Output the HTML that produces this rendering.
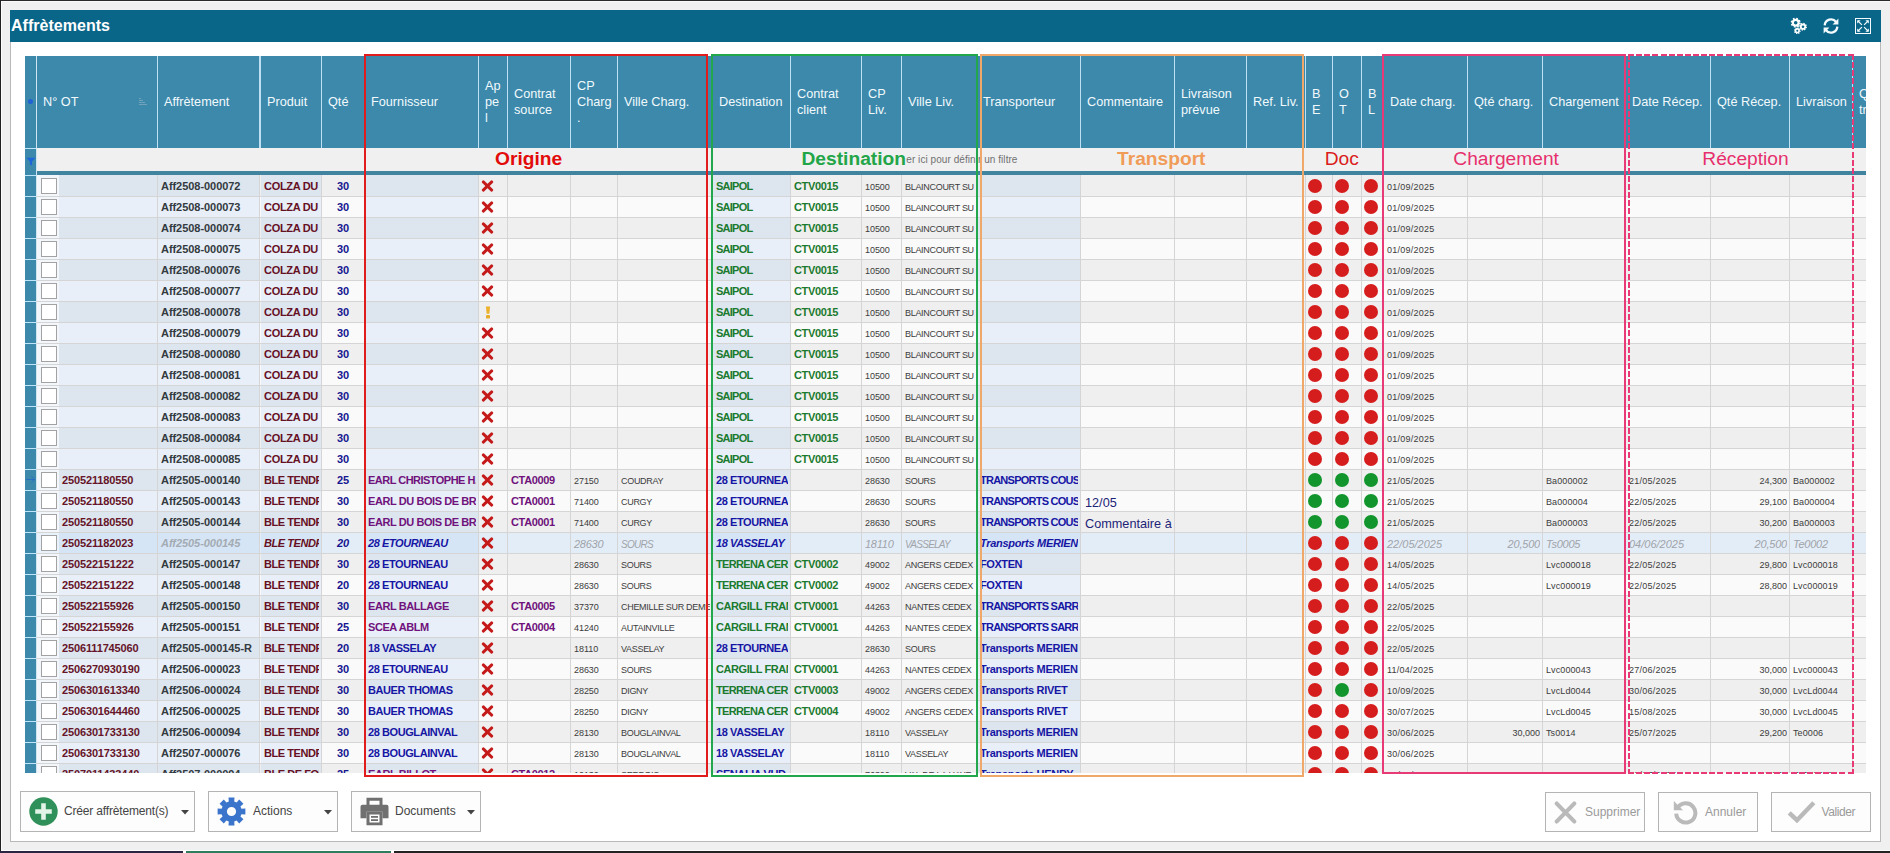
<!DOCTYPE html>
<html lang="fr"><head><meta charset="utf-8"><title>Affrètements</title>
<style>
html,body{margin:0;padding:0}
body{width:1890px;height:853px;overflow:hidden;position:relative;background:#f0f0f0;font-family:"Liberation Sans",sans-serif;}
div,span,svg{position:absolute;box-sizing:border-box}
.panel{left:10px;top:10px;width:1871px;height:832px;background:#fff;border:1px solid #b9b9b9}
.tbar{left:10px;top:10px;width:1871px;height:32px;background:#0a6689}
.title{left:11px;top:16px;font-size:16px;font-weight:bold;color:#fff;line-height:20px;white-space:nowrap;letter-spacing:0.03px}
.grid{left:25px;top:56px;width:1841px;height:717px;overflow:hidden;background:#fff}
.hdr{left:0;top:0;width:1841px;height:92px;background:#3c89ab}
.hc{top:0;height:92px;color:#f2f9fd;font-size:12.7px;line-height:16px;overflow:hidden;white-space:nowrap}
.hc span{position:absolute;left:6px}
.hs{top:0;width:1px;height:92px;background:#bfe0f3}
.filt{left:12px;top:92px;width:1829px;height:23px;background:#f0f0f0}
.band{left:12px;top:115px;width:1829px;height:4px;background:#40849f}
.ind{left:0;top:0;width:11px;height:717px;background:#3c89ab}
.indl{left:0;width:11px;height:1px;background:#bfe5fa}
.row{left:12px;width:1829px;height:21px}
.c{top:0;height:21px;white-space:nowrap}
.rl{left:12px;width:1829px;height:1px;background:#d5d5d5}
.vs{width:1px;background:#d5d5d5;top:119px;height:598px}
.t{left:3px;top:0;line-height:21px;height:21px;white-space:nowrap}
.tb{font-weight:bold;font-size:11px;top:1px}
.tr{font-size:9px;color:#3c3c3c;top:2px}
.k{left:0;top:0;height:21px;overflow:hidden}
.ti{font-style:italic}
.cb{width:16px;height:16px;left:4px;top:3px;background:#fff;border:1px solid #a2a2a2}
.dot{width:14.4px;height:14.4px;border-radius:50%;top:3.8px}
.lab{font-size:19.2px;line-height:23px;top:146.5px;white-space:nowrap}
.box{border:2px solid red}
.btn{background:#fdfdfd;border:1px solid #b4b4b4;top:791px;height:41px}
.btn span{top:0;line-height:39px;font-size:12px;color:#444;white-space:nowrap}
.btn2 span{color:#9a9a9a}
</style></head><body>
<div style="left:0;top:0;width:1890px;height:1px;background:#2a2a2a"></div>
<div style="left:0;top:0;width:1px;height:853px;background:#222"></div>
<div style="left:1px;top:1px;width:1889px;height:1px;background:#fafafa"></div>
<div style="left:1px;top:1px;width:1px;height:850px;background:#fcfcfc"></div>
<div style="left:1px;top:850px;width:1889px;height:1px;background:#fdfdfd"></div>
<div class="panel"></div>
<div class="tbar"></div>
<div class="title">Affrètements</div>


<svg style="left:1789px;top:17px" width="20" height="18" viewBox="0 0 20 18">
<g fill="none" stroke="#fff">
<circle cx="6.7" cy="5.7" r="2.9" stroke-width="2.2"/><circle cx="6.7" cy="5.7" r="4.3" stroke-width="1.5" stroke-dasharray="1.69 1.69"/>
<circle cx="14" cy="9.7" r="2.2" stroke-width="1.8"/><circle cx="14" cy="9.7" r="3.3" stroke-width="1.3" stroke-dasharray="1.3 1.29"/>
<circle cx="8.3" cy="13.7" r="1.8" stroke-width="1.6"/><circle cx="8.3" cy="13.7" r="2.8" stroke-width="1.2" stroke-dasharray="1.1 1.1"/>
</g></svg>
<svg style="left:1822px;top:17px" width="18" height="18" viewBox="0 0 18 18">
<g fill="none" stroke="#f4fbff" stroke-width="2.3"><path d="M2.7 8.4A6.3 6.3 0 0 1 14.1 5"/><path d="M15.3 9.6A6.3 6.3 0 0 1 3.9 13"/></g>
<path d="M16.4 1.6V7.4H10.6z" fill="#f4fbff"/><path d="M1.6 16.4V10.6H7.4z" fill="#f4fbff"/></svg>
<svg style="left:1855px;top:18px" width="16" height="16" viewBox="0 0 16 16">
<rect x="0.5" y="0.5" width="15" height="15" fill="none" stroke="#f4fbff" stroke-width="1"/>
<g stroke="#f4fbff" stroke-width="1.15" fill="none"><path d="M6.9 6.9L3 3M9.1 6.9L13 3M6.9 9.1L3 13M9.1 9.1L13 13"/></g>
<g fill="#f4fbff"><path d="M2.2 2.2h3.4L2.2 5.6z"/><path d="M13.8 2.2v3.4L10.4 2.2z"/><path d="M2.2 13.8v-3.4L5.6 13.8z"/><path d="M13.8 13.8h-3.4L13.8 10.4z"/></g></svg>

<div class="grid">
<div class="hdr"></div>
<div class="hc" style="left:12px;width:120px">
<span style="top:38px">N° OT</span>
</div>
<div class="hs" style="left:132px;width:1px"></div>
<div class="hc" style="left:133px;width:101px">
<span style="top:38px">Affrètement</span>
</div>
<div class="hs" style="left:234px;width:2px"></div>
<div class="hc" style="left:236px;width:60px">
<span style="top:38px">Produit</span>
</div>
<div class="hs" style="left:296px;width:1px"></div>
<div class="hc" style="left:297px;width:42px">
<span style="top:38px">Qté</span>
</div>
<div class="hs" style="left:339px;width:1px"></div>
<div class="hc" style="left:340px;width:113px">
<span style="top:38px">Fournisseur</span>
</div>
<div class="hs" style="left:453px;width:1px"></div>
<div class="hc" style="left:454px;width:28px">
<span style="top:22px">Ap</span>
<span style="top:38px">pe</span>
<span style="top:54px">l</span>
</div>
<div class="hs" style="left:482px;width:1px"></div>
<div class="hc" style="left:483px;width:62px">
<span style="top:30px">Contrat</span>
<span style="top:46px">source</span>
</div>
<div class="hs" style="left:545px;width:1px"></div>
<div class="hc" style="left:546px;width:46px">
<span style="top:22px">CP</span>
<span style="top:38px">Charg</span>
<span style="top:54px">.</span>
</div>
<div class="hs" style="left:592px;width:1px"></div>
<div class="hc" style="left:593px;width:94px">
<span style="top:38px">Ville Charg.</span>
</div>
<div class="hs" style="left:687px;width:1px"></div>
<div class="hc" style="left:688px;width:77px">
<span style="top:38px">Destination</span>
</div>
<div class="hs" style="left:765px;width:1px"></div>
<div class="hc" style="left:766px;width:70px">
<span style="top:30px">Contrat</span>
<span style="top:46px">client</span>
</div>
<div class="hs" style="left:836px;width:1px"></div>
<div class="hc" style="left:837px;width:39px">
<span style="top:30px">CP</span>
<span style="top:46px">Liv.</span>
</div>
<div class="hs" style="left:876px;width:1px"></div>
<div class="hc" style="left:877px;width:74px">
<span style="top:38px">Ville Liv.</span>
</div>
<div class="hs" style="left:951px;width:1px"></div>
<div class="hc" style="left:952px;width:103px">
<span style="top:38px">Transporteur</span>
</div>
<div class="hs" style="left:1055px;width:1px"></div>
<div class="hc" style="left:1056px;width:93px">
<span style="top:38px">Commentaire</span>
</div>
<div class="hs" style="left:1149px;width:1px"></div>
<div class="hc" style="left:1150px;width:71px">
<span style="top:30px">Livraison</span>
<span style="top:46px">prévue</span>
</div>
<div class="hs" style="left:1221px;width:1px"></div>
<div class="hc" style="left:1222px;width:58px">
<span style="top:38px">Ref. Liv.</span>
</div>
<div class="hs" style="left:1280px;width:1px"></div>
<div class="hc" style="left:1281px;width:26px">
<span style="top:30px">B</span>
<span style="top:46px">E</span>
</div>
<div class="hs" style="left:1307px;width:1px"></div>
<div class="hc" style="left:1308px;width:28px">
<span style="top:30px">O</span>
<span style="top:46px">T</span>
</div>
<div class="hs" style="left:1336px;width:1px"></div>
<div class="hc" style="left:1337px;width:21px">
<span style="top:30px">B</span>
<span style="top:46px">L</span>
</div>
<div class="hs" style="left:1358px;width:1px"></div>
<div class="hc" style="left:1359px;width:83px">
<span style="top:38px">Date charg.</span>
</div>
<div class="hs" style="left:1442px;width:1px"></div>
<div class="hc" style="left:1443px;width:74px">
<span style="top:38px">Qté charg.</span>
</div>
<div class="hs" style="left:1517px;width:1px"></div>
<div class="hc" style="left:1518px;width:82px">
<span style="top:38px">Chargement</span>
</div>
<div class="hs" style="left:1600px;width:1px"></div>
<div class="hc" style="left:1601px;width:84px">
<span style="top:38px">Date Récep.</span>
</div>
<div class="hs" style="left:1685px;width:1px"></div>
<div class="hc" style="left:1686px;width:78px">
<span style="top:38px">Qté Récep.</span>
</div>
<div class="hs" style="left:1764px;width:1px"></div>
<div class="hc" style="left:1765px;width:62px">
<span style="top:38px">Livraison</span>
</div>
<div class="hs" style="left:1827px;width:1px"></div>
<div class="hc" style="left:1828px;width:13px">
<span style="top:30px">Qté</span>
<span style="top:46px">tr</span>
</div>
<div class="filt"></div><div class="band"></div>
<div class="row" style="top:119px;background:#efefef">
<div class="c" style="left:0px;width:120px;background:#dde5ef;"><div style="left:0;top:0;width:22px;height:21px;background:#f3f6fa"></div><div class="cb"></div></div>
<div class="c" style="left:121px;width:101px;background:#dde5ef;"><div class="k" style="width:99px"><span class="t tb" style="color:#333a40;letter-spacing:-0.05px">Aff2508-000072</span></div></div>
<div class="c" style="left:224px;width:60px;background:#dde5ef;"><div class="k" style="width:58px"><span class="t tb" style="color:#661024;letter-spacing:-0.3px">COLZA DU</span></div></div>
<div class="c" style="left:285px;width:42px;"><div class="k" style="width:40px"><span class="t tb" style="left:0;width:42px;text-align:center;color:#151590">30</span></div></div>
<div class="c" style="left:328px;width:113px;background:#dde5ef;"></div>
<div class="c" style="left:442px;width:28px;"><svg style="left:2px;top:5px" width="13" height="12" viewBox="0 0 13 12"><path d="M2.3 1.9L10.7 10.1M10.7 1.9L2.3 10.1" stroke="#c41a1a" stroke-width="2.9" stroke-linecap="round" fill="none"/></svg></div>
<div class="c" style="left:471px;width:62px;"></div>
<div class="c" style="left:534px;width:46px;"></div>
<div class="c" style="left:581px;width:94px;"></div>
<div class="c" style="left:676px;width:77px;background:#dde5ef;"><div class="k" style="width:75px"><span class="t tb" style="color:#1a7a2e;letter-spacing:-0.75px">SAIPOL</span></div></div>
<div class="c" style="left:754px;width:70px;"><div class="k" style="width:68px"><span class="t tb" style="color:#1a7a2e;letter-spacing:-0.35px">CTV0015</span></div></div>
<div class="c" style="left:825px;width:39px;"><div class="k" style="width:37px"><span class="t tr" style="color:#3c3c3c;letter-spacing:-0.05px">10500</span></div></div>
<div class="c" style="left:865px;width:74px;"><div class="k" style="width:72px"><span class="t tr" style="color:#3c3c3c;letter-spacing:-0.30px">BLAINCOURT SU</span></div></div>
<div class="c" style="left:940px;width:103px;background:#dde5ef;"></div>
<div class="c" style="left:1044px;width:93px;"></div>
<div class="c" style="left:1138px;width:71px;"></div>
<div class="c" style="left:1210px;width:58px;"></div>
<div class="c" style="left:1269px;width:26px;"><div class="dot" style="left:1.8px;background:#d61d1d"></div></div>
<div class="c" style="left:1296px;width:28px;"><div class="dot" style="left:1.8px;background:#d61d1d"></div></div>
<div class="c" style="left:1325px;width:21px;"><div class="dot" style="left:1.8px;background:#d61d1d"></div></div>
<div class="c" style="left:1347px;width:83px;"><div class="k" style="width:81px"><span class="t tr" style="color:#3c3c3c;letter-spacing:0.24px">01/09/2025</span></div></div>
<div class="c" style="left:1431px;width:74px;"></div>
<div class="c" style="left:1506px;width:82px;"></div>
<div class="c" style="left:1589px;width:84px;"></div>
<div class="c" style="left:1674px;width:78px;"></div>
<div class="c" style="left:1753px;width:62px;"></div>
<div class="c" style="left:1816px;width:13px;"></div>
</div>
<div class="row" style="top:140px;background:#fafafa">
<div class="c" style="left:0px;width:120px;background:#e8eff8;"><div style="left:0;top:0;width:22px;height:21px;background:#f3f6fa"></div><div class="cb"></div></div>
<div class="c" style="left:121px;width:101px;background:#e8eff8;"><div class="k" style="width:99px"><span class="t tb" style="color:#333a40;letter-spacing:-0.05px">Aff2508-000073</span></div></div>
<div class="c" style="left:224px;width:60px;background:#e8eff8;"><div class="k" style="width:58px"><span class="t tb" style="color:#661024;letter-spacing:-0.3px">COLZA DU</span></div></div>
<div class="c" style="left:285px;width:42px;"><div class="k" style="width:40px"><span class="t tb" style="left:0;width:42px;text-align:center;color:#151590">30</span></div></div>
<div class="c" style="left:328px;width:113px;background:#e8eff8;"></div>
<div class="c" style="left:442px;width:28px;"><svg style="left:2px;top:5px" width="13" height="12" viewBox="0 0 13 12"><path d="M2.3 1.9L10.7 10.1M10.7 1.9L2.3 10.1" stroke="#c41a1a" stroke-width="2.9" stroke-linecap="round" fill="none"/></svg></div>
<div class="c" style="left:471px;width:62px;"></div>
<div class="c" style="left:534px;width:46px;"></div>
<div class="c" style="left:581px;width:94px;"></div>
<div class="c" style="left:676px;width:77px;background:#e8eff8;"><div class="k" style="width:75px"><span class="t tb" style="color:#1a7a2e;letter-spacing:-0.75px">SAIPOL</span></div></div>
<div class="c" style="left:754px;width:70px;"><div class="k" style="width:68px"><span class="t tb" style="color:#1a7a2e;letter-spacing:-0.35px">CTV0015</span></div></div>
<div class="c" style="left:825px;width:39px;"><div class="k" style="width:37px"><span class="t tr" style="color:#3c3c3c;letter-spacing:-0.05px">10500</span></div></div>
<div class="c" style="left:865px;width:74px;"><div class="k" style="width:72px"><span class="t tr" style="color:#3c3c3c;letter-spacing:-0.30px">BLAINCOURT SU</span></div></div>
<div class="c" style="left:940px;width:103px;background:#e8eff8;"></div>
<div class="c" style="left:1044px;width:93px;"></div>
<div class="c" style="left:1138px;width:71px;"></div>
<div class="c" style="left:1210px;width:58px;"></div>
<div class="c" style="left:1269px;width:26px;"><div class="dot" style="left:1.8px;background:#d61d1d"></div></div>
<div class="c" style="left:1296px;width:28px;"><div class="dot" style="left:1.8px;background:#d61d1d"></div></div>
<div class="c" style="left:1325px;width:21px;"><div class="dot" style="left:1.8px;background:#d61d1d"></div></div>
<div class="c" style="left:1347px;width:83px;"><div class="k" style="width:81px"><span class="t tr" style="color:#3c3c3c;letter-spacing:0.24px">01/09/2025</span></div></div>
<div class="c" style="left:1431px;width:74px;"></div>
<div class="c" style="left:1506px;width:82px;"></div>
<div class="c" style="left:1589px;width:84px;"></div>
<div class="c" style="left:1674px;width:78px;"></div>
<div class="c" style="left:1753px;width:62px;"></div>
<div class="c" style="left:1816px;width:13px;"></div>
</div>
<div class="row" style="top:161px;background:#efefef">
<div class="c" style="left:0px;width:120px;background:#dde5ef;"><div style="left:0;top:0;width:22px;height:21px;background:#f3f6fa"></div><div class="cb"></div></div>
<div class="c" style="left:121px;width:101px;background:#dde5ef;"><div class="k" style="width:99px"><span class="t tb" style="color:#333a40;letter-spacing:-0.05px">Aff2508-000074</span></div></div>
<div class="c" style="left:224px;width:60px;background:#dde5ef;"><div class="k" style="width:58px"><span class="t tb" style="color:#661024;letter-spacing:-0.3px">COLZA DU</span></div></div>
<div class="c" style="left:285px;width:42px;"><div class="k" style="width:40px"><span class="t tb" style="left:0;width:42px;text-align:center;color:#151590">30</span></div></div>
<div class="c" style="left:328px;width:113px;background:#dde5ef;"></div>
<div class="c" style="left:442px;width:28px;"><svg style="left:2px;top:5px" width="13" height="12" viewBox="0 0 13 12"><path d="M2.3 1.9L10.7 10.1M10.7 1.9L2.3 10.1" stroke="#c41a1a" stroke-width="2.9" stroke-linecap="round" fill="none"/></svg></div>
<div class="c" style="left:471px;width:62px;"></div>
<div class="c" style="left:534px;width:46px;"></div>
<div class="c" style="left:581px;width:94px;"></div>
<div class="c" style="left:676px;width:77px;background:#dde5ef;"><div class="k" style="width:75px"><span class="t tb" style="color:#1a7a2e;letter-spacing:-0.75px">SAIPOL</span></div></div>
<div class="c" style="left:754px;width:70px;"><div class="k" style="width:68px"><span class="t tb" style="color:#1a7a2e;letter-spacing:-0.35px">CTV0015</span></div></div>
<div class="c" style="left:825px;width:39px;"><div class="k" style="width:37px"><span class="t tr" style="color:#3c3c3c;letter-spacing:-0.05px">10500</span></div></div>
<div class="c" style="left:865px;width:74px;"><div class="k" style="width:72px"><span class="t tr" style="color:#3c3c3c;letter-spacing:-0.30px">BLAINCOURT SU</span></div></div>
<div class="c" style="left:940px;width:103px;background:#dde5ef;"></div>
<div class="c" style="left:1044px;width:93px;"></div>
<div class="c" style="left:1138px;width:71px;"></div>
<div class="c" style="left:1210px;width:58px;"></div>
<div class="c" style="left:1269px;width:26px;"><div class="dot" style="left:1.8px;background:#d61d1d"></div></div>
<div class="c" style="left:1296px;width:28px;"><div class="dot" style="left:1.8px;background:#d61d1d"></div></div>
<div class="c" style="left:1325px;width:21px;"><div class="dot" style="left:1.8px;background:#d61d1d"></div></div>
<div class="c" style="left:1347px;width:83px;"><div class="k" style="width:81px"><span class="t tr" style="color:#3c3c3c;letter-spacing:0.24px">01/09/2025</span></div></div>
<div class="c" style="left:1431px;width:74px;"></div>
<div class="c" style="left:1506px;width:82px;"></div>
<div class="c" style="left:1589px;width:84px;"></div>
<div class="c" style="left:1674px;width:78px;"></div>
<div class="c" style="left:1753px;width:62px;"></div>
<div class="c" style="left:1816px;width:13px;"></div>
</div>
<div class="row" style="top:182px;background:#fafafa">
<div class="c" style="left:0px;width:120px;background:#e8eff8;"><div style="left:0;top:0;width:22px;height:21px;background:#f3f6fa"></div><div class="cb"></div></div>
<div class="c" style="left:121px;width:101px;background:#e8eff8;"><div class="k" style="width:99px"><span class="t tb" style="color:#333a40;letter-spacing:-0.05px">Aff2508-000075</span></div></div>
<div class="c" style="left:224px;width:60px;background:#e8eff8;"><div class="k" style="width:58px"><span class="t tb" style="color:#661024;letter-spacing:-0.3px">COLZA DU</span></div></div>
<div class="c" style="left:285px;width:42px;"><div class="k" style="width:40px"><span class="t tb" style="left:0;width:42px;text-align:center;color:#151590">30</span></div></div>
<div class="c" style="left:328px;width:113px;background:#e8eff8;"></div>
<div class="c" style="left:442px;width:28px;"><svg style="left:2px;top:5px" width="13" height="12" viewBox="0 0 13 12"><path d="M2.3 1.9L10.7 10.1M10.7 1.9L2.3 10.1" stroke="#c41a1a" stroke-width="2.9" stroke-linecap="round" fill="none"/></svg></div>
<div class="c" style="left:471px;width:62px;"></div>
<div class="c" style="left:534px;width:46px;"></div>
<div class="c" style="left:581px;width:94px;"></div>
<div class="c" style="left:676px;width:77px;background:#e8eff8;"><div class="k" style="width:75px"><span class="t tb" style="color:#1a7a2e;letter-spacing:-0.75px">SAIPOL</span></div></div>
<div class="c" style="left:754px;width:70px;"><div class="k" style="width:68px"><span class="t tb" style="color:#1a7a2e;letter-spacing:-0.35px">CTV0015</span></div></div>
<div class="c" style="left:825px;width:39px;"><div class="k" style="width:37px"><span class="t tr" style="color:#3c3c3c;letter-spacing:-0.05px">10500</span></div></div>
<div class="c" style="left:865px;width:74px;"><div class="k" style="width:72px"><span class="t tr" style="color:#3c3c3c;letter-spacing:-0.30px">BLAINCOURT SU</span></div></div>
<div class="c" style="left:940px;width:103px;background:#e8eff8;"></div>
<div class="c" style="left:1044px;width:93px;"></div>
<div class="c" style="left:1138px;width:71px;"></div>
<div class="c" style="left:1210px;width:58px;"></div>
<div class="c" style="left:1269px;width:26px;"><div class="dot" style="left:1.8px;background:#d61d1d"></div></div>
<div class="c" style="left:1296px;width:28px;"><div class="dot" style="left:1.8px;background:#d61d1d"></div></div>
<div class="c" style="left:1325px;width:21px;"><div class="dot" style="left:1.8px;background:#d61d1d"></div></div>
<div class="c" style="left:1347px;width:83px;"><div class="k" style="width:81px"><span class="t tr" style="color:#3c3c3c;letter-spacing:0.24px">01/09/2025</span></div></div>
<div class="c" style="left:1431px;width:74px;"></div>
<div class="c" style="left:1506px;width:82px;"></div>
<div class="c" style="left:1589px;width:84px;"></div>
<div class="c" style="left:1674px;width:78px;"></div>
<div class="c" style="left:1753px;width:62px;"></div>
<div class="c" style="left:1816px;width:13px;"></div>
</div>
<div class="row" style="top:203px;background:#efefef">
<div class="c" style="left:0px;width:120px;background:#dde5ef;"><div style="left:0;top:0;width:22px;height:21px;background:#f3f6fa"></div><div class="cb"></div></div>
<div class="c" style="left:121px;width:101px;background:#dde5ef;"><div class="k" style="width:99px"><span class="t tb" style="color:#333a40;letter-spacing:-0.05px">Aff2508-000076</span></div></div>
<div class="c" style="left:224px;width:60px;background:#dde5ef;"><div class="k" style="width:58px"><span class="t tb" style="color:#661024;letter-spacing:-0.3px">COLZA DU</span></div></div>
<div class="c" style="left:285px;width:42px;"><div class="k" style="width:40px"><span class="t tb" style="left:0;width:42px;text-align:center;color:#151590">30</span></div></div>
<div class="c" style="left:328px;width:113px;background:#dde5ef;"></div>
<div class="c" style="left:442px;width:28px;"><svg style="left:2px;top:5px" width="13" height="12" viewBox="0 0 13 12"><path d="M2.3 1.9L10.7 10.1M10.7 1.9L2.3 10.1" stroke="#c41a1a" stroke-width="2.9" stroke-linecap="round" fill="none"/></svg></div>
<div class="c" style="left:471px;width:62px;"></div>
<div class="c" style="left:534px;width:46px;"></div>
<div class="c" style="left:581px;width:94px;"></div>
<div class="c" style="left:676px;width:77px;background:#dde5ef;"><div class="k" style="width:75px"><span class="t tb" style="color:#1a7a2e;letter-spacing:-0.75px">SAIPOL</span></div></div>
<div class="c" style="left:754px;width:70px;"><div class="k" style="width:68px"><span class="t tb" style="color:#1a7a2e;letter-spacing:-0.35px">CTV0015</span></div></div>
<div class="c" style="left:825px;width:39px;"><div class="k" style="width:37px"><span class="t tr" style="color:#3c3c3c;letter-spacing:-0.05px">10500</span></div></div>
<div class="c" style="left:865px;width:74px;"><div class="k" style="width:72px"><span class="t tr" style="color:#3c3c3c;letter-spacing:-0.30px">BLAINCOURT SU</span></div></div>
<div class="c" style="left:940px;width:103px;background:#dde5ef;"></div>
<div class="c" style="left:1044px;width:93px;"></div>
<div class="c" style="left:1138px;width:71px;"></div>
<div class="c" style="left:1210px;width:58px;"></div>
<div class="c" style="left:1269px;width:26px;"><div class="dot" style="left:1.8px;background:#d61d1d"></div></div>
<div class="c" style="left:1296px;width:28px;"><div class="dot" style="left:1.8px;background:#d61d1d"></div></div>
<div class="c" style="left:1325px;width:21px;"><div class="dot" style="left:1.8px;background:#d61d1d"></div></div>
<div class="c" style="left:1347px;width:83px;"><div class="k" style="width:81px"><span class="t tr" style="color:#3c3c3c;letter-spacing:0.24px">01/09/2025</span></div></div>
<div class="c" style="left:1431px;width:74px;"></div>
<div class="c" style="left:1506px;width:82px;"></div>
<div class="c" style="left:1589px;width:84px;"></div>
<div class="c" style="left:1674px;width:78px;"></div>
<div class="c" style="left:1753px;width:62px;"></div>
<div class="c" style="left:1816px;width:13px;"></div>
</div>
<div class="row" style="top:224px;background:#fafafa">
<div class="c" style="left:0px;width:120px;background:#e8eff8;"><div style="left:0;top:0;width:22px;height:21px;background:#f3f6fa"></div><div class="cb"></div></div>
<div class="c" style="left:121px;width:101px;background:#e8eff8;"><div class="k" style="width:99px"><span class="t tb" style="color:#333a40;letter-spacing:-0.05px">Aff2508-000077</span></div></div>
<div class="c" style="left:224px;width:60px;background:#e8eff8;"><div class="k" style="width:58px"><span class="t tb" style="color:#661024;letter-spacing:-0.3px">COLZA DU</span></div></div>
<div class="c" style="left:285px;width:42px;"><div class="k" style="width:40px"><span class="t tb" style="left:0;width:42px;text-align:center;color:#151590">30</span></div></div>
<div class="c" style="left:328px;width:113px;background:#e8eff8;"></div>
<div class="c" style="left:442px;width:28px;"><svg style="left:2px;top:5px" width="13" height="12" viewBox="0 0 13 12"><path d="M2.3 1.9L10.7 10.1M10.7 1.9L2.3 10.1" stroke="#c41a1a" stroke-width="2.9" stroke-linecap="round" fill="none"/></svg></div>
<div class="c" style="left:471px;width:62px;"></div>
<div class="c" style="left:534px;width:46px;"></div>
<div class="c" style="left:581px;width:94px;"></div>
<div class="c" style="left:676px;width:77px;background:#e8eff8;"><div class="k" style="width:75px"><span class="t tb" style="color:#1a7a2e;letter-spacing:-0.75px">SAIPOL</span></div></div>
<div class="c" style="left:754px;width:70px;"><div class="k" style="width:68px"><span class="t tb" style="color:#1a7a2e;letter-spacing:-0.35px">CTV0015</span></div></div>
<div class="c" style="left:825px;width:39px;"><div class="k" style="width:37px"><span class="t tr" style="color:#3c3c3c;letter-spacing:-0.05px">10500</span></div></div>
<div class="c" style="left:865px;width:74px;"><div class="k" style="width:72px"><span class="t tr" style="color:#3c3c3c;letter-spacing:-0.30px">BLAINCOURT SU</span></div></div>
<div class="c" style="left:940px;width:103px;background:#e8eff8;"></div>
<div class="c" style="left:1044px;width:93px;"></div>
<div class="c" style="left:1138px;width:71px;"></div>
<div class="c" style="left:1210px;width:58px;"></div>
<div class="c" style="left:1269px;width:26px;"><div class="dot" style="left:1.8px;background:#d61d1d"></div></div>
<div class="c" style="left:1296px;width:28px;"><div class="dot" style="left:1.8px;background:#d61d1d"></div></div>
<div class="c" style="left:1325px;width:21px;"><div class="dot" style="left:1.8px;background:#d61d1d"></div></div>
<div class="c" style="left:1347px;width:83px;"><div class="k" style="width:81px"><span class="t tr" style="color:#3c3c3c;letter-spacing:0.24px">01/09/2025</span></div></div>
<div class="c" style="left:1431px;width:74px;"></div>
<div class="c" style="left:1506px;width:82px;"></div>
<div class="c" style="left:1589px;width:84px;"></div>
<div class="c" style="left:1674px;width:78px;"></div>
<div class="c" style="left:1753px;width:62px;"></div>
<div class="c" style="left:1816px;width:13px;"></div>
</div>
<div class="row" style="top:245px;background:#efefef">
<div class="c" style="left:0px;width:120px;background:#dde5ef;"><div style="left:0;top:0;width:22px;height:21px;background:#f3f6fa"></div><div class="cb"></div></div>
<div class="c" style="left:121px;width:101px;background:#dde5ef;"><div class="k" style="width:99px"><span class="t tb" style="color:#333a40;letter-spacing:-0.05px">Aff2508-000078</span></div></div>
<div class="c" style="left:224px;width:60px;background:#dde5ef;"><div class="k" style="width:58px"><span class="t tb" style="color:#661024;letter-spacing:-0.3px">COLZA DU</span></div></div>
<div class="c" style="left:285px;width:42px;"><div class="k" style="width:40px"><span class="t tb" style="left:0;width:42px;text-align:center;color:#151590">30</span></div></div>
<div class="c" style="left:328px;width:113px;background:#dde5ef;"></div>
<div class="c" style="left:442px;width:28px;"><svg style="left:6px;top:5px" width="6" height="13" viewBox="0 0 6 13"><path d="M0.9 0.5h4.2l-0.7 7.3h-2.8z" fill="#ecb22e"/><rect x="1" y="9" width="4" height="3.6" rx="0.8" fill="#e6ac2a"/></svg></div>
<div class="c" style="left:471px;width:62px;"></div>
<div class="c" style="left:534px;width:46px;"></div>
<div class="c" style="left:581px;width:94px;"></div>
<div class="c" style="left:676px;width:77px;background:#dde5ef;"><div class="k" style="width:75px"><span class="t tb" style="color:#1a7a2e;letter-spacing:-0.75px">SAIPOL</span></div></div>
<div class="c" style="left:754px;width:70px;"><div class="k" style="width:68px"><span class="t tb" style="color:#1a7a2e;letter-spacing:-0.35px">CTV0015</span></div></div>
<div class="c" style="left:825px;width:39px;"><div class="k" style="width:37px"><span class="t tr" style="color:#3c3c3c;letter-spacing:-0.05px">10500</span></div></div>
<div class="c" style="left:865px;width:74px;"><div class="k" style="width:72px"><span class="t tr" style="color:#3c3c3c;letter-spacing:-0.30px">BLAINCOURT SU</span></div></div>
<div class="c" style="left:940px;width:103px;background:#dde5ef;"></div>
<div class="c" style="left:1044px;width:93px;"></div>
<div class="c" style="left:1138px;width:71px;"></div>
<div class="c" style="left:1210px;width:58px;"></div>
<div class="c" style="left:1269px;width:26px;"><div class="dot" style="left:1.8px;background:#d61d1d"></div></div>
<div class="c" style="left:1296px;width:28px;"><div class="dot" style="left:1.8px;background:#d61d1d"></div></div>
<div class="c" style="left:1325px;width:21px;"><div class="dot" style="left:1.8px;background:#d61d1d"></div></div>
<div class="c" style="left:1347px;width:83px;"><div class="k" style="width:81px"><span class="t tr" style="color:#3c3c3c;letter-spacing:0.24px">01/09/2025</span></div></div>
<div class="c" style="left:1431px;width:74px;"></div>
<div class="c" style="left:1506px;width:82px;"></div>
<div class="c" style="left:1589px;width:84px;"></div>
<div class="c" style="left:1674px;width:78px;"></div>
<div class="c" style="left:1753px;width:62px;"></div>
<div class="c" style="left:1816px;width:13px;"></div>
</div>
<div class="row" style="top:266px;background:#fafafa">
<div class="c" style="left:0px;width:120px;background:#e8eff8;"><div style="left:0;top:0;width:22px;height:21px;background:#f3f6fa"></div><div class="cb"></div></div>
<div class="c" style="left:121px;width:101px;background:#e8eff8;"><div class="k" style="width:99px"><span class="t tb" style="color:#333a40;letter-spacing:-0.05px">Aff2508-000079</span></div></div>
<div class="c" style="left:224px;width:60px;background:#e8eff8;"><div class="k" style="width:58px"><span class="t tb" style="color:#661024;letter-spacing:-0.3px">COLZA DU</span></div></div>
<div class="c" style="left:285px;width:42px;"><div class="k" style="width:40px"><span class="t tb" style="left:0;width:42px;text-align:center;color:#151590">30</span></div></div>
<div class="c" style="left:328px;width:113px;background:#e8eff8;"></div>
<div class="c" style="left:442px;width:28px;"><svg style="left:2px;top:5px" width="13" height="12" viewBox="0 0 13 12"><path d="M2.3 1.9L10.7 10.1M10.7 1.9L2.3 10.1" stroke="#c41a1a" stroke-width="2.9" stroke-linecap="round" fill="none"/></svg></div>
<div class="c" style="left:471px;width:62px;"></div>
<div class="c" style="left:534px;width:46px;"></div>
<div class="c" style="left:581px;width:94px;"></div>
<div class="c" style="left:676px;width:77px;background:#e8eff8;"><div class="k" style="width:75px"><span class="t tb" style="color:#1a7a2e;letter-spacing:-0.75px">SAIPOL</span></div></div>
<div class="c" style="left:754px;width:70px;"><div class="k" style="width:68px"><span class="t tb" style="color:#1a7a2e;letter-spacing:-0.35px">CTV0015</span></div></div>
<div class="c" style="left:825px;width:39px;"><div class="k" style="width:37px"><span class="t tr" style="color:#3c3c3c;letter-spacing:-0.05px">10500</span></div></div>
<div class="c" style="left:865px;width:74px;"><div class="k" style="width:72px"><span class="t tr" style="color:#3c3c3c;letter-spacing:-0.30px">BLAINCOURT SU</span></div></div>
<div class="c" style="left:940px;width:103px;background:#e8eff8;"></div>
<div class="c" style="left:1044px;width:93px;"></div>
<div class="c" style="left:1138px;width:71px;"></div>
<div class="c" style="left:1210px;width:58px;"></div>
<div class="c" style="left:1269px;width:26px;"><div class="dot" style="left:1.8px;background:#d61d1d"></div></div>
<div class="c" style="left:1296px;width:28px;"><div class="dot" style="left:1.8px;background:#d61d1d"></div></div>
<div class="c" style="left:1325px;width:21px;"><div class="dot" style="left:1.8px;background:#d61d1d"></div></div>
<div class="c" style="left:1347px;width:83px;"><div class="k" style="width:81px"><span class="t tr" style="color:#3c3c3c;letter-spacing:0.24px">01/09/2025</span></div></div>
<div class="c" style="left:1431px;width:74px;"></div>
<div class="c" style="left:1506px;width:82px;"></div>
<div class="c" style="left:1589px;width:84px;"></div>
<div class="c" style="left:1674px;width:78px;"></div>
<div class="c" style="left:1753px;width:62px;"></div>
<div class="c" style="left:1816px;width:13px;"></div>
</div>
<div class="row" style="top:287px;background:#efefef">
<div class="c" style="left:0px;width:120px;background:#dde5ef;"><div style="left:0;top:0;width:22px;height:21px;background:#f3f6fa"></div><div class="cb"></div></div>
<div class="c" style="left:121px;width:101px;background:#dde5ef;"><div class="k" style="width:99px"><span class="t tb" style="color:#333a40;letter-spacing:-0.05px">Aff2508-000080</span></div></div>
<div class="c" style="left:224px;width:60px;background:#dde5ef;"><div class="k" style="width:58px"><span class="t tb" style="color:#661024;letter-spacing:-0.3px">COLZA DU</span></div></div>
<div class="c" style="left:285px;width:42px;"><div class="k" style="width:40px"><span class="t tb" style="left:0;width:42px;text-align:center;color:#151590">30</span></div></div>
<div class="c" style="left:328px;width:113px;background:#dde5ef;"></div>
<div class="c" style="left:442px;width:28px;"><svg style="left:2px;top:5px" width="13" height="12" viewBox="0 0 13 12"><path d="M2.3 1.9L10.7 10.1M10.7 1.9L2.3 10.1" stroke="#c41a1a" stroke-width="2.9" stroke-linecap="round" fill="none"/></svg></div>
<div class="c" style="left:471px;width:62px;"></div>
<div class="c" style="left:534px;width:46px;"></div>
<div class="c" style="left:581px;width:94px;"></div>
<div class="c" style="left:676px;width:77px;background:#dde5ef;"><div class="k" style="width:75px"><span class="t tb" style="color:#1a7a2e;letter-spacing:-0.75px">SAIPOL</span></div></div>
<div class="c" style="left:754px;width:70px;"><div class="k" style="width:68px"><span class="t tb" style="color:#1a7a2e;letter-spacing:-0.35px">CTV0015</span></div></div>
<div class="c" style="left:825px;width:39px;"><div class="k" style="width:37px"><span class="t tr" style="color:#3c3c3c;letter-spacing:-0.05px">10500</span></div></div>
<div class="c" style="left:865px;width:74px;"><div class="k" style="width:72px"><span class="t tr" style="color:#3c3c3c;letter-spacing:-0.30px">BLAINCOURT SU</span></div></div>
<div class="c" style="left:940px;width:103px;background:#dde5ef;"></div>
<div class="c" style="left:1044px;width:93px;"></div>
<div class="c" style="left:1138px;width:71px;"></div>
<div class="c" style="left:1210px;width:58px;"></div>
<div class="c" style="left:1269px;width:26px;"><div class="dot" style="left:1.8px;background:#d61d1d"></div></div>
<div class="c" style="left:1296px;width:28px;"><div class="dot" style="left:1.8px;background:#d61d1d"></div></div>
<div class="c" style="left:1325px;width:21px;"><div class="dot" style="left:1.8px;background:#d61d1d"></div></div>
<div class="c" style="left:1347px;width:83px;"><div class="k" style="width:81px"><span class="t tr" style="color:#3c3c3c;letter-spacing:0.24px">01/09/2025</span></div></div>
<div class="c" style="left:1431px;width:74px;"></div>
<div class="c" style="left:1506px;width:82px;"></div>
<div class="c" style="left:1589px;width:84px;"></div>
<div class="c" style="left:1674px;width:78px;"></div>
<div class="c" style="left:1753px;width:62px;"></div>
<div class="c" style="left:1816px;width:13px;"></div>
</div>
<div class="row" style="top:308px;background:#fafafa">
<div class="c" style="left:0px;width:120px;background:#e8eff8;"><div style="left:0;top:0;width:22px;height:21px;background:#f3f6fa"></div><div class="cb"></div></div>
<div class="c" style="left:121px;width:101px;background:#e8eff8;"><div class="k" style="width:99px"><span class="t tb" style="color:#333a40;letter-spacing:-0.05px">Aff2508-000081</span></div></div>
<div class="c" style="left:224px;width:60px;background:#e8eff8;"><div class="k" style="width:58px"><span class="t tb" style="color:#661024;letter-spacing:-0.3px">COLZA DU</span></div></div>
<div class="c" style="left:285px;width:42px;"><div class="k" style="width:40px"><span class="t tb" style="left:0;width:42px;text-align:center;color:#151590">30</span></div></div>
<div class="c" style="left:328px;width:113px;background:#e8eff8;"></div>
<div class="c" style="left:442px;width:28px;"><svg style="left:2px;top:5px" width="13" height="12" viewBox="0 0 13 12"><path d="M2.3 1.9L10.7 10.1M10.7 1.9L2.3 10.1" stroke="#c41a1a" stroke-width="2.9" stroke-linecap="round" fill="none"/></svg></div>
<div class="c" style="left:471px;width:62px;"></div>
<div class="c" style="left:534px;width:46px;"></div>
<div class="c" style="left:581px;width:94px;"></div>
<div class="c" style="left:676px;width:77px;background:#e8eff8;"><div class="k" style="width:75px"><span class="t tb" style="color:#1a7a2e;letter-spacing:-0.75px">SAIPOL</span></div></div>
<div class="c" style="left:754px;width:70px;"><div class="k" style="width:68px"><span class="t tb" style="color:#1a7a2e;letter-spacing:-0.35px">CTV0015</span></div></div>
<div class="c" style="left:825px;width:39px;"><div class="k" style="width:37px"><span class="t tr" style="color:#3c3c3c;letter-spacing:-0.05px">10500</span></div></div>
<div class="c" style="left:865px;width:74px;"><div class="k" style="width:72px"><span class="t tr" style="color:#3c3c3c;letter-spacing:-0.30px">BLAINCOURT SU</span></div></div>
<div class="c" style="left:940px;width:103px;background:#e8eff8;"></div>
<div class="c" style="left:1044px;width:93px;"></div>
<div class="c" style="left:1138px;width:71px;"></div>
<div class="c" style="left:1210px;width:58px;"></div>
<div class="c" style="left:1269px;width:26px;"><div class="dot" style="left:1.8px;background:#d61d1d"></div></div>
<div class="c" style="left:1296px;width:28px;"><div class="dot" style="left:1.8px;background:#d61d1d"></div></div>
<div class="c" style="left:1325px;width:21px;"><div class="dot" style="left:1.8px;background:#d61d1d"></div></div>
<div class="c" style="left:1347px;width:83px;"><div class="k" style="width:81px"><span class="t tr" style="color:#3c3c3c;letter-spacing:0.24px">01/09/2025</span></div></div>
<div class="c" style="left:1431px;width:74px;"></div>
<div class="c" style="left:1506px;width:82px;"></div>
<div class="c" style="left:1589px;width:84px;"></div>
<div class="c" style="left:1674px;width:78px;"></div>
<div class="c" style="left:1753px;width:62px;"></div>
<div class="c" style="left:1816px;width:13px;"></div>
</div>
<div class="row" style="top:329px;background:#efefef">
<div class="c" style="left:0px;width:120px;background:#dde5ef;"><div style="left:0;top:0;width:22px;height:21px;background:#f3f6fa"></div><div class="cb"></div></div>
<div class="c" style="left:121px;width:101px;background:#dde5ef;"><div class="k" style="width:99px"><span class="t tb" style="color:#333a40;letter-spacing:-0.05px">Aff2508-000082</span></div></div>
<div class="c" style="left:224px;width:60px;background:#dde5ef;"><div class="k" style="width:58px"><span class="t tb" style="color:#661024;letter-spacing:-0.3px">COLZA DU</span></div></div>
<div class="c" style="left:285px;width:42px;"><div class="k" style="width:40px"><span class="t tb" style="left:0;width:42px;text-align:center;color:#151590">30</span></div></div>
<div class="c" style="left:328px;width:113px;background:#dde5ef;"></div>
<div class="c" style="left:442px;width:28px;"><svg style="left:2px;top:5px" width="13" height="12" viewBox="0 0 13 12"><path d="M2.3 1.9L10.7 10.1M10.7 1.9L2.3 10.1" stroke="#c41a1a" stroke-width="2.9" stroke-linecap="round" fill="none"/></svg></div>
<div class="c" style="left:471px;width:62px;"></div>
<div class="c" style="left:534px;width:46px;"></div>
<div class="c" style="left:581px;width:94px;"></div>
<div class="c" style="left:676px;width:77px;background:#dde5ef;"><div class="k" style="width:75px"><span class="t tb" style="color:#1a7a2e;letter-spacing:-0.75px">SAIPOL</span></div></div>
<div class="c" style="left:754px;width:70px;"><div class="k" style="width:68px"><span class="t tb" style="color:#1a7a2e;letter-spacing:-0.35px">CTV0015</span></div></div>
<div class="c" style="left:825px;width:39px;"><div class="k" style="width:37px"><span class="t tr" style="color:#3c3c3c;letter-spacing:-0.05px">10500</span></div></div>
<div class="c" style="left:865px;width:74px;"><div class="k" style="width:72px"><span class="t tr" style="color:#3c3c3c;letter-spacing:-0.30px">BLAINCOURT SU</span></div></div>
<div class="c" style="left:940px;width:103px;background:#dde5ef;"></div>
<div class="c" style="left:1044px;width:93px;"></div>
<div class="c" style="left:1138px;width:71px;"></div>
<div class="c" style="left:1210px;width:58px;"></div>
<div class="c" style="left:1269px;width:26px;"><div class="dot" style="left:1.8px;background:#d61d1d"></div></div>
<div class="c" style="left:1296px;width:28px;"><div class="dot" style="left:1.8px;background:#d61d1d"></div></div>
<div class="c" style="left:1325px;width:21px;"><div class="dot" style="left:1.8px;background:#d61d1d"></div></div>
<div class="c" style="left:1347px;width:83px;"><div class="k" style="width:81px"><span class="t tr" style="color:#3c3c3c;letter-spacing:0.24px">01/09/2025</span></div></div>
<div class="c" style="left:1431px;width:74px;"></div>
<div class="c" style="left:1506px;width:82px;"></div>
<div class="c" style="left:1589px;width:84px;"></div>
<div class="c" style="left:1674px;width:78px;"></div>
<div class="c" style="left:1753px;width:62px;"></div>
<div class="c" style="left:1816px;width:13px;"></div>
</div>
<div class="row" style="top:350px;background:#fafafa">
<div class="c" style="left:0px;width:120px;background:#e8eff8;"><div style="left:0;top:0;width:22px;height:21px;background:#f3f6fa"></div><div class="cb"></div></div>
<div class="c" style="left:121px;width:101px;background:#e8eff8;"><div class="k" style="width:99px"><span class="t tb" style="color:#333a40;letter-spacing:-0.05px">Aff2508-000083</span></div></div>
<div class="c" style="left:224px;width:60px;background:#e8eff8;"><div class="k" style="width:58px"><span class="t tb" style="color:#661024;letter-spacing:-0.3px">COLZA DU</span></div></div>
<div class="c" style="left:285px;width:42px;"><div class="k" style="width:40px"><span class="t tb" style="left:0;width:42px;text-align:center;color:#151590">30</span></div></div>
<div class="c" style="left:328px;width:113px;background:#e8eff8;"></div>
<div class="c" style="left:442px;width:28px;"><svg style="left:2px;top:5px" width="13" height="12" viewBox="0 0 13 12"><path d="M2.3 1.9L10.7 10.1M10.7 1.9L2.3 10.1" stroke="#c41a1a" stroke-width="2.9" stroke-linecap="round" fill="none"/></svg></div>
<div class="c" style="left:471px;width:62px;"></div>
<div class="c" style="left:534px;width:46px;"></div>
<div class="c" style="left:581px;width:94px;"></div>
<div class="c" style="left:676px;width:77px;background:#e8eff8;"><div class="k" style="width:75px"><span class="t tb" style="color:#1a7a2e;letter-spacing:-0.75px">SAIPOL</span></div></div>
<div class="c" style="left:754px;width:70px;"><div class="k" style="width:68px"><span class="t tb" style="color:#1a7a2e;letter-spacing:-0.35px">CTV0015</span></div></div>
<div class="c" style="left:825px;width:39px;"><div class="k" style="width:37px"><span class="t tr" style="color:#3c3c3c;letter-spacing:-0.05px">10500</span></div></div>
<div class="c" style="left:865px;width:74px;"><div class="k" style="width:72px"><span class="t tr" style="color:#3c3c3c;letter-spacing:-0.30px">BLAINCOURT SU</span></div></div>
<div class="c" style="left:940px;width:103px;background:#e8eff8;"></div>
<div class="c" style="left:1044px;width:93px;"></div>
<div class="c" style="left:1138px;width:71px;"></div>
<div class="c" style="left:1210px;width:58px;"></div>
<div class="c" style="left:1269px;width:26px;"><div class="dot" style="left:1.8px;background:#d61d1d"></div></div>
<div class="c" style="left:1296px;width:28px;"><div class="dot" style="left:1.8px;background:#d61d1d"></div></div>
<div class="c" style="left:1325px;width:21px;"><div class="dot" style="left:1.8px;background:#d61d1d"></div></div>
<div class="c" style="left:1347px;width:83px;"><div class="k" style="width:81px"><span class="t tr" style="color:#3c3c3c;letter-spacing:0.24px">01/09/2025</span></div></div>
<div class="c" style="left:1431px;width:74px;"></div>
<div class="c" style="left:1506px;width:82px;"></div>
<div class="c" style="left:1589px;width:84px;"></div>
<div class="c" style="left:1674px;width:78px;"></div>
<div class="c" style="left:1753px;width:62px;"></div>
<div class="c" style="left:1816px;width:13px;"></div>
</div>
<div class="row" style="top:371px;background:#efefef">
<div class="c" style="left:0px;width:120px;background:#dde5ef;"><div style="left:0;top:0;width:22px;height:21px;background:#f3f6fa"></div><div class="cb"></div></div>
<div class="c" style="left:121px;width:101px;background:#dde5ef;"><div class="k" style="width:99px"><span class="t tb" style="color:#333a40;letter-spacing:-0.05px">Aff2508-000084</span></div></div>
<div class="c" style="left:224px;width:60px;background:#dde5ef;"><div class="k" style="width:58px"><span class="t tb" style="color:#661024;letter-spacing:-0.3px">COLZA DU</span></div></div>
<div class="c" style="left:285px;width:42px;"><div class="k" style="width:40px"><span class="t tb" style="left:0;width:42px;text-align:center;color:#151590">30</span></div></div>
<div class="c" style="left:328px;width:113px;background:#dde5ef;"></div>
<div class="c" style="left:442px;width:28px;"><svg style="left:2px;top:5px" width="13" height="12" viewBox="0 0 13 12"><path d="M2.3 1.9L10.7 10.1M10.7 1.9L2.3 10.1" stroke="#c41a1a" stroke-width="2.9" stroke-linecap="round" fill="none"/></svg></div>
<div class="c" style="left:471px;width:62px;"></div>
<div class="c" style="left:534px;width:46px;"></div>
<div class="c" style="left:581px;width:94px;"></div>
<div class="c" style="left:676px;width:77px;background:#dde5ef;"><div class="k" style="width:75px"><span class="t tb" style="color:#1a7a2e;letter-spacing:-0.75px">SAIPOL</span></div></div>
<div class="c" style="left:754px;width:70px;"><div class="k" style="width:68px"><span class="t tb" style="color:#1a7a2e;letter-spacing:-0.35px">CTV0015</span></div></div>
<div class="c" style="left:825px;width:39px;"><div class="k" style="width:37px"><span class="t tr" style="color:#3c3c3c;letter-spacing:-0.05px">10500</span></div></div>
<div class="c" style="left:865px;width:74px;"><div class="k" style="width:72px"><span class="t tr" style="color:#3c3c3c;letter-spacing:-0.30px">BLAINCOURT SU</span></div></div>
<div class="c" style="left:940px;width:103px;background:#dde5ef;"></div>
<div class="c" style="left:1044px;width:93px;"></div>
<div class="c" style="left:1138px;width:71px;"></div>
<div class="c" style="left:1210px;width:58px;"></div>
<div class="c" style="left:1269px;width:26px;"><div class="dot" style="left:1.8px;background:#d61d1d"></div></div>
<div class="c" style="left:1296px;width:28px;"><div class="dot" style="left:1.8px;background:#d61d1d"></div></div>
<div class="c" style="left:1325px;width:21px;"><div class="dot" style="left:1.8px;background:#d61d1d"></div></div>
<div class="c" style="left:1347px;width:83px;"><div class="k" style="width:81px"><span class="t tr" style="color:#3c3c3c;letter-spacing:0.24px">01/09/2025</span></div></div>
<div class="c" style="left:1431px;width:74px;"></div>
<div class="c" style="left:1506px;width:82px;"></div>
<div class="c" style="left:1589px;width:84px;"></div>
<div class="c" style="left:1674px;width:78px;"></div>
<div class="c" style="left:1753px;width:62px;"></div>
<div class="c" style="left:1816px;width:13px;"></div>
</div>
<div class="row" style="top:392px;background:#fafafa">
<div class="c" style="left:0px;width:120px;background:#e8eff8;"><div style="left:0;top:0;width:22px;height:21px;background:#f3f6fa"></div><div class="cb"></div></div>
<div class="c" style="left:121px;width:101px;background:#e8eff8;"><div class="k" style="width:99px"><span class="t tb" style="color:#333a40;letter-spacing:-0.05px">Aff2508-000085</span></div></div>
<div class="c" style="left:224px;width:60px;background:#e8eff8;"><div class="k" style="width:58px"><span class="t tb" style="color:#661024;letter-spacing:-0.3px">COLZA DU</span></div></div>
<div class="c" style="left:285px;width:42px;"><div class="k" style="width:40px"><span class="t tb" style="left:0;width:42px;text-align:center;color:#151590">30</span></div></div>
<div class="c" style="left:328px;width:113px;background:#e8eff8;"></div>
<div class="c" style="left:442px;width:28px;"><svg style="left:2px;top:5px" width="13" height="12" viewBox="0 0 13 12"><path d="M2.3 1.9L10.7 10.1M10.7 1.9L2.3 10.1" stroke="#c41a1a" stroke-width="2.9" stroke-linecap="round" fill="none"/></svg></div>
<div class="c" style="left:471px;width:62px;"></div>
<div class="c" style="left:534px;width:46px;"></div>
<div class="c" style="left:581px;width:94px;"></div>
<div class="c" style="left:676px;width:77px;background:#e8eff8;"><div class="k" style="width:75px"><span class="t tb" style="color:#1a7a2e;letter-spacing:-0.75px">SAIPOL</span></div></div>
<div class="c" style="left:754px;width:70px;"><div class="k" style="width:68px"><span class="t tb" style="color:#1a7a2e;letter-spacing:-0.35px">CTV0015</span></div></div>
<div class="c" style="left:825px;width:39px;"><div class="k" style="width:37px"><span class="t tr" style="color:#3c3c3c;letter-spacing:-0.05px">10500</span></div></div>
<div class="c" style="left:865px;width:74px;"><div class="k" style="width:72px"><span class="t tr" style="color:#3c3c3c;letter-spacing:-0.30px">BLAINCOURT SU</span></div></div>
<div class="c" style="left:940px;width:103px;background:#e8eff8;"></div>
<div class="c" style="left:1044px;width:93px;"></div>
<div class="c" style="left:1138px;width:71px;"></div>
<div class="c" style="left:1210px;width:58px;"></div>
<div class="c" style="left:1269px;width:26px;"><div class="dot" style="left:1.8px;background:#d61d1d"></div></div>
<div class="c" style="left:1296px;width:28px;"><div class="dot" style="left:1.8px;background:#d61d1d"></div></div>
<div class="c" style="left:1325px;width:21px;"><div class="dot" style="left:1.8px;background:#d61d1d"></div></div>
<div class="c" style="left:1347px;width:83px;"><div class="k" style="width:81px"><span class="t tr" style="color:#3c3c3c;letter-spacing:0.24px">01/09/2025</span></div></div>
<div class="c" style="left:1431px;width:74px;"></div>
<div class="c" style="left:1506px;width:82px;"></div>
<div class="c" style="left:1589px;width:84px;"></div>
<div class="c" style="left:1674px;width:78px;"></div>
<div class="c" style="left:1753px;width:62px;"></div>
<div class="c" style="left:1816px;width:13px;"></div>
</div>
<div class="row" style="top:413px;background:#efefef">
<div class="c" style="left:0px;width:120px;background:#dde5ef;"><div style="left:0;top:0;width:22px;height:21px;background:#f3f6fa"></div><div class="cb"></div><div class="k" style="width:118px"><span class="t tb" style="left:25px;color:#661428;letter-spacing:-0.14px">250521180550</span></div></div>
<div class="c" style="left:121px;width:101px;background:#dde5ef;"><div class="k" style="width:99px"><span class="t tb" style="color:#333a40;letter-spacing:-0.05px">Aff2505-000140</span></div></div>
<div class="c" style="left:224px;width:60px;background:#dde5ef;"><div class="k" style="width:58px"><span class="t tb" style="color:#661024;letter-spacing:-0.45px">BLE TENDRE</span></div></div>
<div class="c" style="left:285px;width:42px;"><div class="k" style="width:40px"><span class="t tb" style="left:0;width:42px;text-align:center;color:#151590">25</span></div></div>
<div class="c" style="left:328px;width:113px;background:#dde5ef;"><div class="k" style="width:111px"><span class="t tb" style="color:#70127c;letter-spacing:-0.52px">EARL CHRISTOPHE H.</span></div></div>
<div class="c" style="left:442px;width:28px;"><svg style="left:2px;top:5px" width="13" height="12" viewBox="0 0 13 12"><path d="M2.3 1.9L10.7 10.1M10.7 1.9L2.3 10.1" stroke="#c41a1a" stroke-width="2.9" stroke-linecap="round" fill="none"/></svg></div>
<div class="c" style="left:471px;width:62px;"><div class="k" style="width:60px"><span class="t tb" style="color:#70127c;letter-spacing:-0.35px">CTA0009</span></div></div>
<div class="c" style="left:534px;width:46px;"><div class="k" style="width:44px"><span class="t tr" style="color:#3c3c3c;letter-spacing:-0.05px">27150</span></div></div>
<div class="c" style="left:581px;width:94px;"><div class="k" style="width:92px"><span class="t tr" style="color:#3c3c3c;letter-spacing:-0.30px">COUDRAY</span></div></div>
<div class="c" style="left:676px;width:77px;background:#dde5ef;"><div class="k" style="width:75px"><span class="t tb" style="color:#1616a4;letter-spacing:-0.42px">28 ETOURNEAU</span></div></div>
<div class="c" style="left:754px;width:70px;"></div>
<div class="c" style="left:825px;width:39px;"><div class="k" style="width:37px"><span class="t tr" style="color:#3c3c3c;letter-spacing:-0.05px">28630</span></div></div>
<div class="c" style="left:865px;width:74px;"><div class="k" style="width:72px"><span class="t tr" style="color:#3c3c3c;letter-spacing:-0.30px">SOURS</span></div></div>
<div class="c" style="left:940px;width:103px;background:#dde5ef;"><div class="k" style="width:101px"><span class="t tb" style="color:#1616a4;letter-spacing:-0.75px">TRANSPORTS COUSIN</span></div></div>
<div class="c" style="left:1044px;width:93px;"></div>
<div class="c" style="left:1138px;width:71px;"></div>
<div class="c" style="left:1210px;width:58px;"></div>
<div class="c" style="left:1269px;width:26px;"><div class="dot" style="left:1.8px;background:#12952c"></div></div>
<div class="c" style="left:1296px;width:28px;"><div class="dot" style="left:1.8px;background:#12952c"></div></div>
<div class="c" style="left:1325px;width:21px;"><div class="dot" style="left:1.8px;background:#12952c"></div></div>
<div class="c" style="left:1347px;width:83px;"><div class="k" style="width:81px"><span class="t tr" style="color:#3c3c3c;letter-spacing:0.24px">21/05/2025</span></div></div>
<div class="c" style="left:1431px;width:74px;"></div>
<div class="c" style="left:1506px;width:82px;"><div class="k" style="width:80px"><span class="t tr" style="color:#3c3c3c;letter-spacing:0.10px">Ba000002</span></div></div>
<div class="c" style="left:1589px;width:84px;"><div class="k" style="width:82px"><span class="t tr" style="color:#3c3c3c;letter-spacing:0.24px">21/05/2025</span></div></div>
<div class="c" style="left:1674px;width:78px;"><div class="k" style="width:76px"><span class="t tr" style="left:auto;right:0;color:#3c3c3c">24,300</span></div></div>
<div class="c" style="left:1753px;width:62px;"><div class="k" style="width:60px"><span class="t tr" style="color:#3c3c3c;letter-spacing:0.10px">Ba000002</span></div></div>
<div class="c" style="left:1816px;width:13px;"></div>
</div>
<div class="row" style="top:434px;background:#fafafa">
<div class="c" style="left:0px;width:120px;background:#e8eff8;"><div style="left:0;top:0;width:22px;height:21px;background:#f3f6fa"></div><div class="cb"></div><div class="k" style="width:118px"><span class="t tb" style="left:25px;color:#661428;letter-spacing:-0.14px">250521180550</span></div></div>
<div class="c" style="left:121px;width:101px;background:#e8eff8;"><div class="k" style="width:99px"><span class="t tb" style="color:#333a40;letter-spacing:-0.05px">Aff2505-000143</span></div></div>
<div class="c" style="left:224px;width:60px;background:#e8eff8;"><div class="k" style="width:58px"><span class="t tb" style="color:#661024;letter-spacing:-0.45px">BLE TENDRE</span></div></div>
<div class="c" style="left:285px;width:42px;"><div class="k" style="width:40px"><span class="t tb" style="left:0;width:42px;text-align:center;color:#151590">30</span></div></div>
<div class="c" style="left:328px;width:113px;background:#e8eff8;"><div class="k" style="width:111px"><span class="t tb" style="color:#70127c;letter-spacing:-0.42px">EARL DU BOIS DE BRAY</span></div></div>
<div class="c" style="left:442px;width:28px;"><svg style="left:2px;top:5px" width="13" height="12" viewBox="0 0 13 12"><path d="M2.3 1.9L10.7 10.1M10.7 1.9L2.3 10.1" stroke="#c41a1a" stroke-width="2.9" stroke-linecap="round" fill="none"/></svg></div>
<div class="c" style="left:471px;width:62px;"><div class="k" style="width:60px"><span class="t tb" style="color:#70127c;letter-spacing:-0.35px">CTA0001</span></div></div>
<div class="c" style="left:534px;width:46px;"><div class="k" style="width:44px"><span class="t tr" style="color:#3c3c3c;letter-spacing:-0.05px">71400</span></div></div>
<div class="c" style="left:581px;width:94px;"><div class="k" style="width:92px"><span class="t tr" style="color:#3c3c3c;letter-spacing:-0.30px">CURGY</span></div></div>
<div class="c" style="left:676px;width:77px;background:#e8eff8;"><div class="k" style="width:75px"><span class="t tb" style="color:#1616a4;letter-spacing:-0.42px">28 ETOURNEAU</span></div></div>
<div class="c" style="left:754px;width:70px;"></div>
<div class="c" style="left:825px;width:39px;"><div class="k" style="width:37px"><span class="t tr" style="color:#3c3c3c;letter-spacing:-0.05px">28630</span></div></div>
<div class="c" style="left:865px;width:74px;"><div class="k" style="width:72px"><span class="t tr" style="color:#3c3c3c;letter-spacing:-0.30px">SOURS</span></div></div>
<div class="c" style="left:940px;width:103px;background:#e8eff8;"><div class="k" style="width:101px"><span class="t tb" style="color:#1616a4;letter-spacing:-0.75px">TRANSPORTS COUSIN</span></div></div>
<div class="c" style="left:1044px;width:93px;"><div class="k" style="width:91px"><span class="t" style="left:4px;top:3px;font-size:12.7px;color:#1d2478">12/05</span></div></div>
<div class="c" style="left:1138px;width:71px;"></div>
<div class="c" style="left:1210px;width:58px;"></div>
<div class="c" style="left:1269px;width:26px;"><div class="dot" style="left:1.8px;background:#12952c"></div></div>
<div class="c" style="left:1296px;width:28px;"><div class="dot" style="left:1.8px;background:#12952c"></div></div>
<div class="c" style="left:1325px;width:21px;"><div class="dot" style="left:1.8px;background:#12952c"></div></div>
<div class="c" style="left:1347px;width:83px;"><div class="k" style="width:81px"><span class="t tr" style="color:#3c3c3c;letter-spacing:0.24px">21/05/2025</span></div></div>
<div class="c" style="left:1431px;width:74px;"></div>
<div class="c" style="left:1506px;width:82px;"><div class="k" style="width:80px"><span class="t tr" style="color:#3c3c3c;letter-spacing:0.10px">Ba000004</span></div></div>
<div class="c" style="left:1589px;width:84px;"><div class="k" style="width:82px"><span class="t tr" style="color:#3c3c3c;letter-spacing:0.24px">22/05/2025</span></div></div>
<div class="c" style="left:1674px;width:78px;"><div class="k" style="width:76px"><span class="t tr" style="left:auto;right:0;color:#3c3c3c">29,100</span></div></div>
<div class="c" style="left:1753px;width:62px;"><div class="k" style="width:60px"><span class="t tr" style="color:#3c3c3c;letter-spacing:0.10px">Ba000004</span></div></div>
<div class="c" style="left:1816px;width:13px;"></div>
</div>
<div class="row" style="top:455px;background:#efefef">
<div class="c" style="left:0px;width:120px;background:#dde5ef;"><div style="left:0;top:0;width:22px;height:21px;background:#f3f6fa"></div><div class="cb"></div><div class="k" style="width:118px"><span class="t tb" style="left:25px;color:#661428;letter-spacing:-0.14px">250521180550</span></div></div>
<div class="c" style="left:121px;width:101px;background:#dde5ef;"><div class="k" style="width:99px"><span class="t tb" style="color:#333a40;letter-spacing:-0.05px">Aff2505-000144</span></div></div>
<div class="c" style="left:224px;width:60px;background:#dde5ef;"><div class="k" style="width:58px"><span class="t tb" style="color:#661024;letter-spacing:-0.45px">BLE TENDRE</span></div></div>
<div class="c" style="left:285px;width:42px;"><div class="k" style="width:40px"><span class="t tb" style="left:0;width:42px;text-align:center;color:#151590">30</span></div></div>
<div class="c" style="left:328px;width:113px;background:#dde5ef;"><div class="k" style="width:111px"><span class="t tb" style="color:#70127c;letter-spacing:-0.42px">EARL DU BOIS DE BRAY</span></div></div>
<div class="c" style="left:442px;width:28px;"><svg style="left:2px;top:5px" width="13" height="12" viewBox="0 0 13 12"><path d="M2.3 1.9L10.7 10.1M10.7 1.9L2.3 10.1" stroke="#c41a1a" stroke-width="2.9" stroke-linecap="round" fill="none"/></svg></div>
<div class="c" style="left:471px;width:62px;"><div class="k" style="width:60px"><span class="t tb" style="color:#70127c;letter-spacing:-0.35px">CTA0001</span></div></div>
<div class="c" style="left:534px;width:46px;"><div class="k" style="width:44px"><span class="t tr" style="color:#3c3c3c;letter-spacing:-0.05px">71400</span></div></div>
<div class="c" style="left:581px;width:94px;"><div class="k" style="width:92px"><span class="t tr" style="color:#3c3c3c;letter-spacing:-0.30px">CURGY</span></div></div>
<div class="c" style="left:676px;width:77px;background:#dde5ef;"><div class="k" style="width:75px"><span class="t tb" style="color:#1616a4;letter-spacing:-0.42px">28 ETOURNEAU</span></div></div>
<div class="c" style="left:754px;width:70px;"></div>
<div class="c" style="left:825px;width:39px;"><div class="k" style="width:37px"><span class="t tr" style="color:#3c3c3c;letter-spacing:-0.05px">28630</span></div></div>
<div class="c" style="left:865px;width:74px;"><div class="k" style="width:72px"><span class="t tr" style="color:#3c3c3c;letter-spacing:-0.30px">SOURS</span></div></div>
<div class="c" style="left:940px;width:103px;background:#dde5ef;"><div class="k" style="width:101px"><span class="t tb" style="color:#1616a4;letter-spacing:-0.75px">TRANSPORTS COUSIN</span></div></div>
<div class="c" style="left:1044px;width:93px;"><div class="k" style="width:91px"><span class="t" style="left:4px;top:3px;font-size:12.7px;color:#1d2478">Commentaire à</span></div></div>
<div class="c" style="left:1138px;width:71px;"></div>
<div class="c" style="left:1210px;width:58px;"></div>
<div class="c" style="left:1269px;width:26px;"><div class="dot" style="left:1.8px;background:#12952c"></div></div>
<div class="c" style="left:1296px;width:28px;"><div class="dot" style="left:1.8px;background:#12952c"></div></div>
<div class="c" style="left:1325px;width:21px;"><div class="dot" style="left:1.8px;background:#12952c"></div></div>
<div class="c" style="left:1347px;width:83px;"><div class="k" style="width:81px"><span class="t tr" style="color:#3c3c3c;letter-spacing:0.24px">21/05/2025</span></div></div>
<div class="c" style="left:1431px;width:74px;"></div>
<div class="c" style="left:1506px;width:82px;"><div class="k" style="width:80px"><span class="t tr" style="color:#3c3c3c;letter-spacing:0.10px">Ba000003</span></div></div>
<div class="c" style="left:1589px;width:84px;"><div class="k" style="width:82px"><span class="t tr" style="color:#3c3c3c;letter-spacing:0.24px">22/05/2025</span></div></div>
<div class="c" style="left:1674px;width:78px;"><div class="k" style="width:76px"><span class="t tr" style="left:auto;right:0;color:#3c3c3c">30,200</span></div></div>
<div class="c" style="left:1753px;width:62px;"><div class="k" style="width:60px"><span class="t tr" style="color:#3c3c3c;letter-spacing:0.10px">Ba000003</span></div></div>
<div class="c" style="left:1816px;width:13px;"></div>
</div>
<div class="row" style="top:476px;background:#e3edf8">
<div class="c" style="left:0px;width:120px;background:#d6e5f5;"><div style="left:0;top:0;width:22px;height:21px;background:#e9f1fa"></div><div class="cb"></div><div class="k" style="width:118px"><span class="t tb" style="left:25px;color:#661428;letter-spacing:-0.14px">250521182023</span></div></div>
<div class="c" style="left:121px;width:101px;background:#d6e5f5;"><div class="k" style="width:99px"><span class="t tb ti" style="color:#a3abb3;letter-spacing:-0.05px">Aff2505-000145</span></div></div>
<div class="c" style="left:224px;width:60px;background:#d6e5f5;"><div class="k" style="width:58px"><span class="t tb ti" style="color:#661024;letter-spacing:-0.45px">BLE TENDRE</span></div></div>
<div class="c" style="left:285px;width:42px;"><div class="k" style="width:40px"><span class="t tb ti" style="left:0;width:42px;text-align:center;color:#151590">20</span></div></div>
<div class="c" style="left:328px;width:113px;background:#d6e5f5;"><div class="k" style="width:111px"><span class="t tb ti" style="color:#1616a4;letter-spacing:-0.42px">28 ETOURNEAU</span></div></div>
<div class="c" style="left:442px;width:28px;"><svg style="left:2px;top:5px" width="13" height="12" viewBox="0 0 13 12"><path d="M2.3 1.9L10.7 10.1M10.7 1.9L2.3 10.1" stroke="#c41a1a" stroke-width="2.9" stroke-linecap="round" fill="none"/></svg></div>
<div class="c" style="left:471px;width:62px;"></div>
<div class="c" style="left:534px;width:46px;"><div class="k" style="width:44px"><span class="t tr ti" style="font-size:11px;color:#a0a3a8;letter-spacing:-0.25px">28630</span></div></div>
<div class="c" style="left:581px;width:94px;"><div class="k" style="width:92px"><span class="t tr ti" style="font-size:10px;color:#a0a3a8;letter-spacing:-0.75px">SOURS</span></div></div>
<div class="c" style="left:676px;width:77px;background:#d6e5f5;"><div class="k" style="width:75px"><span class="t tb ti" style="color:#1616a4;letter-spacing:-0.42px">18 VASSELAY</span></div></div>
<div class="c" style="left:754px;width:70px;"></div>
<div class="c" style="left:825px;width:39px;"><div class="k" style="width:37px"><span class="t tr ti" style="font-size:11px;color:#a0a3a8;letter-spacing:-0.25px">18110</span></div></div>
<div class="c" style="left:865px;width:74px;"><div class="k" style="width:72px"><span class="t tr ti" style="font-size:10px;color:#a0a3a8;letter-spacing:-0.75px">VASSELAY</span></div></div>
<div class="c" style="left:940px;width:103px;background:#d6e5f5;"><div class="k" style="width:101px"><span class="t tb ti" style="color:#1616a4;letter-spacing:-0.30px">Transports MERIENNE</span></div></div>
<div class="c" style="left:1044px;width:93px;"></div>
<div class="c" style="left:1138px;width:71px;"></div>
<div class="c" style="left:1210px;width:58px;"></div>
<div class="c" style="left:1269px;width:26px;"><div class="dot" style="left:1.8px;background:#d61d1d"></div></div>
<div class="c" style="left:1296px;width:28px;"><div class="dot" style="left:1.8px;background:#d61d1d"></div></div>
<div class="c" style="left:1325px;width:21px;"><div class="dot" style="left:1.8px;background:#d61d1d"></div></div>
<div class="c" style="left:1347px;width:83px;"><div class="k" style="width:81px"><span class="t tr ti" style="font-size:11px;color:#a0a3a8;letter-spacing:0.00px">22/05/2025</span></div></div>
<div class="c" style="left:1431px;width:74px;"><div class="k" style="width:72px"><span class="t tr ti" style="font-size:11px;letter-spacing:-0.2px;left:auto;right:0;color:#a0a3a8">20,500</span></div></div>
<div class="c" style="left:1506px;width:82px;"><div class="k" style="width:80px"><span class="t tr ti" style="font-size:11px;color:#a0a3a8;letter-spacing:-0.25px">Ts0005</span></div></div>
<div class="c" style="left:1589px;width:84px;"><div class="k" style="width:82px"><span class="t tr ti" style="font-size:11px;color:#a0a3a8;letter-spacing:0.00px">04/06/2025</span></div></div>
<div class="c" style="left:1674px;width:78px;"><div class="k" style="width:76px"><span class="t tr ti" style="font-size:11px;letter-spacing:-0.2px;left:auto;right:0;color:#a0a3a8">20,500</span></div></div>
<div class="c" style="left:1753px;width:62px;"><div class="k" style="width:60px"><span class="t tr ti" style="font-size:11px;color:#a0a3a8;letter-spacing:-0.25px">Te0002</span></div></div>
<div class="c" style="left:1816px;width:13px;"></div>
</div>
<div class="row" style="top:497px;background:#efefef">
<div class="c" style="left:0px;width:120px;background:#dde5ef;"><div style="left:0;top:0;width:22px;height:21px;background:#f3f6fa"></div><div class="cb"></div><div class="k" style="width:118px"><span class="t tb" style="left:25px;color:#661428;letter-spacing:-0.14px">250522151222</span></div></div>
<div class="c" style="left:121px;width:101px;background:#dde5ef;"><div class="k" style="width:99px"><span class="t tb" style="color:#333a40;letter-spacing:-0.05px">Aff2505-000147</span></div></div>
<div class="c" style="left:224px;width:60px;background:#dde5ef;"><div class="k" style="width:58px"><span class="t tb" style="color:#661024;letter-spacing:-0.45px">BLE TENDRE</span></div></div>
<div class="c" style="left:285px;width:42px;"><div class="k" style="width:40px"><span class="t tb" style="left:0;width:42px;text-align:center;color:#151590">30</span></div></div>
<div class="c" style="left:328px;width:113px;background:#dde5ef;"><div class="k" style="width:111px"><span class="t tb" style="color:#1616a4;letter-spacing:-0.42px">28 ETOURNEAU</span></div></div>
<div class="c" style="left:442px;width:28px;"><svg style="left:2px;top:5px" width="13" height="12" viewBox="0 0 13 12"><path d="M2.3 1.9L10.7 10.1M10.7 1.9L2.3 10.1" stroke="#c41a1a" stroke-width="2.9" stroke-linecap="round" fill="none"/></svg></div>
<div class="c" style="left:471px;width:62px;"></div>
<div class="c" style="left:534px;width:46px;"><div class="k" style="width:44px"><span class="t tr" style="color:#3c3c3c;letter-spacing:-0.05px">28630</span></div></div>
<div class="c" style="left:581px;width:94px;"><div class="k" style="width:92px"><span class="t tr" style="color:#3c3c3c;letter-spacing:-0.30px">SOURS</span></div></div>
<div class="c" style="left:676px;width:77px;background:#dde5ef;"><div class="k" style="width:75px"><span class="t tb" style="color:#1a7a2e;letter-spacing:-0.67px">TERRENA CEREALES</span></div></div>
<div class="c" style="left:754px;width:70px;"><div class="k" style="width:68px"><span class="t tb" style="color:#1a7a2e;letter-spacing:-0.35px">CTV0002</span></div></div>
<div class="c" style="left:825px;width:39px;"><div class="k" style="width:37px"><span class="t tr" style="color:#3c3c3c;letter-spacing:-0.05px">49002</span></div></div>
<div class="c" style="left:865px;width:74px;"><div class="k" style="width:72px"><span class="t tr" style="color:#3c3c3c;letter-spacing:-0.30px">ANGERS CEDEX</span></div></div>
<div class="c" style="left:940px;width:103px;background:#dde5ef;"><div class="k" style="width:101px"><span class="t tb" style="color:#1616a4;letter-spacing:-0.42px">FOXTEN</span></div></div>
<div class="c" style="left:1044px;width:93px;"></div>
<div class="c" style="left:1138px;width:71px;"></div>
<div class="c" style="left:1210px;width:58px;"></div>
<div class="c" style="left:1269px;width:26px;"><div class="dot" style="left:1.8px;background:#d61d1d"></div></div>
<div class="c" style="left:1296px;width:28px;"><div class="dot" style="left:1.8px;background:#d61d1d"></div></div>
<div class="c" style="left:1325px;width:21px;"><div class="dot" style="left:1.8px;background:#d61d1d"></div></div>
<div class="c" style="left:1347px;width:83px;"><div class="k" style="width:81px"><span class="t tr" style="color:#3c3c3c;letter-spacing:0.24px">14/05/2025</span></div></div>
<div class="c" style="left:1431px;width:74px;"></div>
<div class="c" style="left:1506px;width:82px;"><div class="k" style="width:80px"><span class="t tr" style="color:#3c3c3c;letter-spacing:0.10px">Lvc000018</span></div></div>
<div class="c" style="left:1589px;width:84px;"><div class="k" style="width:82px"><span class="t tr" style="color:#3c3c3c;letter-spacing:0.24px">22/05/2025</span></div></div>
<div class="c" style="left:1674px;width:78px;"><div class="k" style="width:76px"><span class="t tr" style="left:auto;right:0;color:#3c3c3c">29,800</span></div></div>
<div class="c" style="left:1753px;width:62px;"><div class="k" style="width:60px"><span class="t tr" style="color:#3c3c3c;letter-spacing:0.10px">Lvc000018</span></div></div>
<div class="c" style="left:1816px;width:13px;"></div>
</div>
<div class="row" style="top:518px;background:#fafafa">
<div class="c" style="left:0px;width:120px;background:#e8eff8;"><div style="left:0;top:0;width:22px;height:21px;background:#f3f6fa"></div><div class="cb"></div><div class="k" style="width:118px"><span class="t tb" style="left:25px;color:#661428;letter-spacing:-0.14px">250522151222</span></div></div>
<div class="c" style="left:121px;width:101px;background:#e8eff8;"><div class="k" style="width:99px"><span class="t tb" style="color:#333a40;letter-spacing:-0.05px">Aff2505-000148</span></div></div>
<div class="c" style="left:224px;width:60px;background:#e8eff8;"><div class="k" style="width:58px"><span class="t tb" style="color:#661024;letter-spacing:-0.45px">BLE TENDRE</span></div></div>
<div class="c" style="left:285px;width:42px;"><div class="k" style="width:40px"><span class="t tb" style="left:0;width:42px;text-align:center;color:#151590">20</span></div></div>
<div class="c" style="left:328px;width:113px;background:#e8eff8;"><div class="k" style="width:111px"><span class="t tb" style="color:#1616a4;letter-spacing:-0.42px">28 ETOURNEAU</span></div></div>
<div class="c" style="left:442px;width:28px;"><svg style="left:2px;top:5px" width="13" height="12" viewBox="0 0 13 12"><path d="M2.3 1.9L10.7 10.1M10.7 1.9L2.3 10.1" stroke="#c41a1a" stroke-width="2.9" stroke-linecap="round" fill="none"/></svg></div>
<div class="c" style="left:471px;width:62px;"></div>
<div class="c" style="left:534px;width:46px;"><div class="k" style="width:44px"><span class="t tr" style="color:#3c3c3c;letter-spacing:-0.05px">28630</span></div></div>
<div class="c" style="left:581px;width:94px;"><div class="k" style="width:92px"><span class="t tr" style="color:#3c3c3c;letter-spacing:-0.30px">SOURS</span></div></div>
<div class="c" style="left:676px;width:77px;background:#e8eff8;"><div class="k" style="width:75px"><span class="t tb" style="color:#1a7a2e;letter-spacing:-0.67px">TERRENA CEREALES</span></div></div>
<div class="c" style="left:754px;width:70px;"><div class="k" style="width:68px"><span class="t tb" style="color:#1a7a2e;letter-spacing:-0.35px">CTV0002</span></div></div>
<div class="c" style="left:825px;width:39px;"><div class="k" style="width:37px"><span class="t tr" style="color:#3c3c3c;letter-spacing:-0.05px">49002</span></div></div>
<div class="c" style="left:865px;width:74px;"><div class="k" style="width:72px"><span class="t tr" style="color:#3c3c3c;letter-spacing:-0.30px">ANGERS CEDEX</span></div></div>
<div class="c" style="left:940px;width:103px;background:#e8eff8;"><div class="k" style="width:101px"><span class="t tb" style="color:#1616a4;letter-spacing:-0.42px">FOXTEN</span></div></div>
<div class="c" style="left:1044px;width:93px;"></div>
<div class="c" style="left:1138px;width:71px;"></div>
<div class="c" style="left:1210px;width:58px;"></div>
<div class="c" style="left:1269px;width:26px;"><div class="dot" style="left:1.8px;background:#d61d1d"></div></div>
<div class="c" style="left:1296px;width:28px;"><div class="dot" style="left:1.8px;background:#d61d1d"></div></div>
<div class="c" style="left:1325px;width:21px;"><div class="dot" style="left:1.8px;background:#d61d1d"></div></div>
<div class="c" style="left:1347px;width:83px;"><div class="k" style="width:81px"><span class="t tr" style="color:#3c3c3c;letter-spacing:0.24px">14/05/2025</span></div></div>
<div class="c" style="left:1431px;width:74px;"></div>
<div class="c" style="left:1506px;width:82px;"><div class="k" style="width:80px"><span class="t tr" style="color:#3c3c3c;letter-spacing:0.10px">Lvc000019</span></div></div>
<div class="c" style="left:1589px;width:84px;"><div class="k" style="width:82px"><span class="t tr" style="color:#3c3c3c;letter-spacing:0.24px">22/05/2025</span></div></div>
<div class="c" style="left:1674px;width:78px;"><div class="k" style="width:76px"><span class="t tr" style="left:auto;right:0;color:#3c3c3c">28,800</span></div></div>
<div class="c" style="left:1753px;width:62px;"><div class="k" style="width:60px"><span class="t tr" style="color:#3c3c3c;letter-spacing:0.10px">Lvc000019</span></div></div>
<div class="c" style="left:1816px;width:13px;"></div>
</div>
<div class="row" style="top:539px;background:#efefef">
<div class="c" style="left:0px;width:120px;background:#dde5ef;"><div style="left:0;top:0;width:22px;height:21px;background:#f3f6fa"></div><div class="cb"></div><div class="k" style="width:118px"><span class="t tb" style="left:25px;color:#661428;letter-spacing:-0.14px">250522155926</span></div></div>
<div class="c" style="left:121px;width:101px;background:#dde5ef;"><div class="k" style="width:99px"><span class="t tb" style="color:#333a40;letter-spacing:-0.05px">Aff2505-000150</span></div></div>
<div class="c" style="left:224px;width:60px;background:#dde5ef;"><div class="k" style="width:58px"><span class="t tb" style="color:#661024;letter-spacing:-0.45px">BLE TENDRE</span></div></div>
<div class="c" style="left:285px;width:42px;"><div class="k" style="width:40px"><span class="t tb" style="left:0;width:42px;text-align:center;color:#151590">30</span></div></div>
<div class="c" style="left:328px;width:113px;background:#dde5ef;"><div class="k" style="width:111px"><span class="t tb" style="color:#70127c;letter-spacing:-0.42px">EARL BALLAGE</span></div></div>
<div class="c" style="left:442px;width:28px;"><svg style="left:2px;top:5px" width="13" height="12" viewBox="0 0 13 12"><path d="M2.3 1.9L10.7 10.1M10.7 1.9L2.3 10.1" stroke="#c41a1a" stroke-width="2.9" stroke-linecap="round" fill="none"/></svg></div>
<div class="c" style="left:471px;width:62px;"><div class="k" style="width:60px"><span class="t tb" style="color:#70127c;letter-spacing:-0.35px">CTA0005</span></div></div>
<div class="c" style="left:534px;width:46px;"><div class="k" style="width:44px"><span class="t tr" style="color:#3c3c3c;letter-spacing:-0.05px">37370</span></div></div>
<div class="c" style="left:581px;width:94px;"><div class="k" style="width:92px"><span class="t tr" style="color:#3c3c3c;letter-spacing:-0.30px">CHEMILLE SUR DEME</span></div></div>
<div class="c" style="left:676px;width:77px;background:#dde5ef;"><div class="k" style="width:75px"><span class="t tb" style="color:#1a7a2e;letter-spacing:-0.42px">CARGILL FRANCE</span></div></div>
<div class="c" style="left:754px;width:70px;"><div class="k" style="width:68px"><span class="t tb" style="color:#1a7a2e;letter-spacing:-0.35px">CTV0001</span></div></div>
<div class="c" style="left:825px;width:39px;"><div class="k" style="width:37px"><span class="t tr" style="color:#3c3c3c;letter-spacing:-0.05px">44263</span></div></div>
<div class="c" style="left:865px;width:74px;"><div class="k" style="width:72px"><span class="t tr" style="color:#3c3c3c;letter-spacing:-0.30px">NANTES CEDEX</span></div></div>
<div class="c" style="left:940px;width:103px;background:#dde5ef;"><div class="k" style="width:101px"><span class="t tb" style="color:#1616a4;letter-spacing:-0.75px">TRANSPORTS SARRAZIN</span></div></div>
<div class="c" style="left:1044px;width:93px;"></div>
<div class="c" style="left:1138px;width:71px;"></div>
<div class="c" style="left:1210px;width:58px;"></div>
<div class="c" style="left:1269px;width:26px;"><div class="dot" style="left:1.8px;background:#d61d1d"></div></div>
<div class="c" style="left:1296px;width:28px;"><div class="dot" style="left:1.8px;background:#d61d1d"></div></div>
<div class="c" style="left:1325px;width:21px;"><div class="dot" style="left:1.8px;background:#d61d1d"></div></div>
<div class="c" style="left:1347px;width:83px;"><div class="k" style="width:81px"><span class="t tr" style="color:#3c3c3c;letter-spacing:0.24px">22/05/2025</span></div></div>
<div class="c" style="left:1431px;width:74px;"></div>
<div class="c" style="left:1506px;width:82px;"></div>
<div class="c" style="left:1589px;width:84px;"></div>
<div class="c" style="left:1674px;width:78px;"></div>
<div class="c" style="left:1753px;width:62px;"></div>
<div class="c" style="left:1816px;width:13px;"></div>
</div>
<div class="row" style="top:560px;background:#fafafa">
<div class="c" style="left:0px;width:120px;background:#e8eff8;"><div style="left:0;top:0;width:22px;height:21px;background:#f3f6fa"></div><div class="cb"></div><div class="k" style="width:118px"><span class="t tb" style="left:25px;color:#661428;letter-spacing:-0.14px">250522155926</span></div></div>
<div class="c" style="left:121px;width:101px;background:#e8eff8;"><div class="k" style="width:99px"><span class="t tb" style="color:#333a40;letter-spacing:-0.05px">Aff2505-000151</span></div></div>
<div class="c" style="left:224px;width:60px;background:#e8eff8;"><div class="k" style="width:58px"><span class="t tb" style="color:#661024;letter-spacing:-0.45px">BLE TENDRE</span></div></div>
<div class="c" style="left:285px;width:42px;"><div class="k" style="width:40px"><span class="t tb" style="left:0;width:42px;text-align:center;color:#151590">25</span></div></div>
<div class="c" style="left:328px;width:113px;background:#e8eff8;"><div class="k" style="width:111px"><span class="t tb" style="color:#70127c;letter-spacing:-0.42px">SCEA ABLM</span></div></div>
<div class="c" style="left:442px;width:28px;"><svg style="left:2px;top:5px" width="13" height="12" viewBox="0 0 13 12"><path d="M2.3 1.9L10.7 10.1M10.7 1.9L2.3 10.1" stroke="#c41a1a" stroke-width="2.9" stroke-linecap="round" fill="none"/></svg></div>
<div class="c" style="left:471px;width:62px;"><div class="k" style="width:60px"><span class="t tb" style="color:#70127c;letter-spacing:-0.35px">CTA0004</span></div></div>
<div class="c" style="left:534px;width:46px;"><div class="k" style="width:44px"><span class="t tr" style="color:#3c3c3c;letter-spacing:-0.05px">41240</span></div></div>
<div class="c" style="left:581px;width:94px;"><div class="k" style="width:92px"><span class="t tr" style="color:#3c3c3c;letter-spacing:-0.30px">AUTAINVILLE</span></div></div>
<div class="c" style="left:676px;width:77px;background:#e8eff8;"><div class="k" style="width:75px"><span class="t tb" style="color:#1a7a2e;letter-spacing:-0.42px">CARGILL FRANCE</span></div></div>
<div class="c" style="left:754px;width:70px;"><div class="k" style="width:68px"><span class="t tb" style="color:#1a7a2e;letter-spacing:-0.35px">CTV0001</span></div></div>
<div class="c" style="left:825px;width:39px;"><div class="k" style="width:37px"><span class="t tr" style="color:#3c3c3c;letter-spacing:-0.05px">44263</span></div></div>
<div class="c" style="left:865px;width:74px;"><div class="k" style="width:72px"><span class="t tr" style="color:#3c3c3c;letter-spacing:-0.30px">NANTES CEDEX</span></div></div>
<div class="c" style="left:940px;width:103px;background:#e8eff8;"><div class="k" style="width:101px"><span class="t tb" style="color:#1616a4;letter-spacing:-0.75px">TRANSPORTS SARRAZIN</span></div></div>
<div class="c" style="left:1044px;width:93px;"></div>
<div class="c" style="left:1138px;width:71px;"></div>
<div class="c" style="left:1210px;width:58px;"></div>
<div class="c" style="left:1269px;width:26px;"><div class="dot" style="left:1.8px;background:#d61d1d"></div></div>
<div class="c" style="left:1296px;width:28px;"><div class="dot" style="left:1.8px;background:#d61d1d"></div></div>
<div class="c" style="left:1325px;width:21px;"><div class="dot" style="left:1.8px;background:#d61d1d"></div></div>
<div class="c" style="left:1347px;width:83px;"><div class="k" style="width:81px"><span class="t tr" style="color:#3c3c3c;letter-spacing:0.24px">22/05/2025</span></div></div>
<div class="c" style="left:1431px;width:74px;"></div>
<div class="c" style="left:1506px;width:82px;"></div>
<div class="c" style="left:1589px;width:84px;"></div>
<div class="c" style="left:1674px;width:78px;"></div>
<div class="c" style="left:1753px;width:62px;"></div>
<div class="c" style="left:1816px;width:13px;"></div>
</div>
<div class="row" style="top:581px;background:#efefef">
<div class="c" style="left:0px;width:120px;background:#dde5ef;"><div style="left:0;top:0;width:22px;height:21px;background:#f3f6fa"></div><div class="cb"></div><div class="k" style="width:118px"><span class="t tb" style="left:25px;color:#661428;letter-spacing:-0.14px">2506111745060</span></div></div>
<div class="c" style="left:121px;width:101px;background:#dde5ef;"><div class="k" style="width:99px"><span class="t tb" style="color:#333a40;letter-spacing:-0.05px">Aff2505-000145-R</span></div></div>
<div class="c" style="left:224px;width:60px;background:#dde5ef;"><div class="k" style="width:58px"><span class="t tb" style="color:#661024;letter-spacing:-0.45px">BLE TENDRE</span></div></div>
<div class="c" style="left:285px;width:42px;"><div class="k" style="width:40px"><span class="t tb" style="left:0;width:42px;text-align:center;color:#151590">20</span></div></div>
<div class="c" style="left:328px;width:113px;background:#dde5ef;"><div class="k" style="width:111px"><span class="t tb" style="color:#1616a4;letter-spacing:-0.42px">18 VASSELAY</span></div></div>
<div class="c" style="left:442px;width:28px;"><svg style="left:2px;top:5px" width="13" height="12" viewBox="0 0 13 12"><path d="M2.3 1.9L10.7 10.1M10.7 1.9L2.3 10.1" stroke="#c41a1a" stroke-width="2.9" stroke-linecap="round" fill="none"/></svg></div>
<div class="c" style="left:471px;width:62px;"></div>
<div class="c" style="left:534px;width:46px;"><div class="k" style="width:44px"><span class="t tr" style="color:#3c3c3c;letter-spacing:-0.05px">18110</span></div></div>
<div class="c" style="left:581px;width:94px;"><div class="k" style="width:92px"><span class="t tr" style="color:#3c3c3c;letter-spacing:-0.30px">VASSELAY</span></div></div>
<div class="c" style="left:676px;width:77px;background:#dde5ef;"><div class="k" style="width:75px"><span class="t tb" style="color:#1616a4;letter-spacing:-0.42px">28 ETOURNEAU</span></div></div>
<div class="c" style="left:754px;width:70px;"></div>
<div class="c" style="left:825px;width:39px;"><div class="k" style="width:37px"><span class="t tr" style="color:#3c3c3c;letter-spacing:-0.05px">28630</span></div></div>
<div class="c" style="left:865px;width:74px;"><div class="k" style="width:72px"><span class="t tr" style="color:#3c3c3c;letter-spacing:-0.30px">SOURS</span></div></div>
<div class="c" style="left:940px;width:103px;background:#dde5ef;"><div class="k" style="width:101px"><span class="t tb" style="color:#1616a4;letter-spacing:-0.30px">Transports MERIENNE</span></div></div>
<div class="c" style="left:1044px;width:93px;"></div>
<div class="c" style="left:1138px;width:71px;"></div>
<div class="c" style="left:1210px;width:58px;"></div>
<div class="c" style="left:1269px;width:26px;"><div class="dot" style="left:1.8px;background:#d61d1d"></div></div>
<div class="c" style="left:1296px;width:28px;"><div class="dot" style="left:1.8px;background:#d61d1d"></div></div>
<div class="c" style="left:1325px;width:21px;"><div class="dot" style="left:1.8px;background:#d61d1d"></div></div>
<div class="c" style="left:1347px;width:83px;"><div class="k" style="width:81px"><span class="t tr" style="color:#3c3c3c;letter-spacing:0.24px">22/05/2025</span></div></div>
<div class="c" style="left:1431px;width:74px;"></div>
<div class="c" style="left:1506px;width:82px;"></div>
<div class="c" style="left:1589px;width:84px;"></div>
<div class="c" style="left:1674px;width:78px;"></div>
<div class="c" style="left:1753px;width:62px;"></div>
<div class="c" style="left:1816px;width:13px;"></div>
</div>
<div class="row" style="top:602px;background:#fafafa">
<div class="c" style="left:0px;width:120px;background:#e8eff8;"><div style="left:0;top:0;width:22px;height:21px;background:#f3f6fa"></div><div class="cb"></div><div class="k" style="width:118px"><span class="t tb" style="left:25px;color:#661428;letter-spacing:-0.14px">2506270930190</span></div></div>
<div class="c" style="left:121px;width:101px;background:#e8eff8;"><div class="k" style="width:99px"><span class="t tb" style="color:#333a40;letter-spacing:-0.05px">Aff2506-000023</span></div></div>
<div class="c" style="left:224px;width:60px;background:#e8eff8;"><div class="k" style="width:58px"><span class="t tb" style="color:#661024;letter-spacing:-0.45px">BLE TENDRE</span></div></div>
<div class="c" style="left:285px;width:42px;"><div class="k" style="width:40px"><span class="t tb" style="left:0;width:42px;text-align:center;color:#151590">30</span></div></div>
<div class="c" style="left:328px;width:113px;background:#e8eff8;"><div class="k" style="width:111px"><span class="t tb" style="color:#1616a4;letter-spacing:-0.42px">28 ETOURNEAU</span></div></div>
<div class="c" style="left:442px;width:28px;"><svg style="left:2px;top:5px" width="13" height="12" viewBox="0 0 13 12"><path d="M2.3 1.9L10.7 10.1M10.7 1.9L2.3 10.1" stroke="#c41a1a" stroke-width="2.9" stroke-linecap="round" fill="none"/></svg></div>
<div class="c" style="left:471px;width:62px;"></div>
<div class="c" style="left:534px;width:46px;"><div class="k" style="width:44px"><span class="t tr" style="color:#3c3c3c;letter-spacing:-0.05px">28630</span></div></div>
<div class="c" style="left:581px;width:94px;"><div class="k" style="width:92px"><span class="t tr" style="color:#3c3c3c;letter-spacing:-0.30px">SOURS</span></div></div>
<div class="c" style="left:676px;width:77px;background:#e8eff8;"><div class="k" style="width:75px"><span class="t tb" style="color:#1a7a2e;letter-spacing:-0.42px">CARGILL FRANCE</span></div></div>
<div class="c" style="left:754px;width:70px;"><div class="k" style="width:68px"><span class="t tb" style="color:#1a7a2e;letter-spacing:-0.35px">CTV0001</span></div></div>
<div class="c" style="left:825px;width:39px;"><div class="k" style="width:37px"><span class="t tr" style="color:#3c3c3c;letter-spacing:-0.05px">44263</span></div></div>
<div class="c" style="left:865px;width:74px;"><div class="k" style="width:72px"><span class="t tr" style="color:#3c3c3c;letter-spacing:-0.30px">NANTES CEDEX</span></div></div>
<div class="c" style="left:940px;width:103px;background:#e8eff8;"><div class="k" style="width:101px"><span class="t tb" style="color:#1616a4;letter-spacing:-0.30px">Transports MERIENNE</span></div></div>
<div class="c" style="left:1044px;width:93px;"></div>
<div class="c" style="left:1138px;width:71px;"></div>
<div class="c" style="left:1210px;width:58px;"></div>
<div class="c" style="left:1269px;width:26px;"><div class="dot" style="left:1.8px;background:#d61d1d"></div></div>
<div class="c" style="left:1296px;width:28px;"><div class="dot" style="left:1.8px;background:#d61d1d"></div></div>
<div class="c" style="left:1325px;width:21px;"><div class="dot" style="left:1.8px;background:#d61d1d"></div></div>
<div class="c" style="left:1347px;width:83px;"><div class="k" style="width:81px"><span class="t tr" style="color:#3c3c3c;letter-spacing:0.24px">11/04/2025</span></div></div>
<div class="c" style="left:1431px;width:74px;"></div>
<div class="c" style="left:1506px;width:82px;"><div class="k" style="width:80px"><span class="t tr" style="color:#3c3c3c;letter-spacing:0.10px">Lvc000043</span></div></div>
<div class="c" style="left:1589px;width:84px;"><div class="k" style="width:82px"><span class="t tr" style="color:#3c3c3c;letter-spacing:0.24px">27/06/2025</span></div></div>
<div class="c" style="left:1674px;width:78px;"><div class="k" style="width:76px"><span class="t tr" style="left:auto;right:0;color:#3c3c3c">30,000</span></div></div>
<div class="c" style="left:1753px;width:62px;"><div class="k" style="width:60px"><span class="t tr" style="color:#3c3c3c;letter-spacing:0.10px">Lvc000043</span></div></div>
<div class="c" style="left:1816px;width:13px;"></div>
</div>
<div class="row" style="top:623px;background:#efefef">
<div class="c" style="left:0px;width:120px;background:#dde5ef;"><div style="left:0;top:0;width:22px;height:21px;background:#f3f6fa"></div><div class="cb"></div><div class="k" style="width:118px"><span class="t tb" style="left:25px;color:#661428;letter-spacing:-0.14px">2506301613340</span></div></div>
<div class="c" style="left:121px;width:101px;background:#dde5ef;"><div class="k" style="width:99px"><span class="t tb" style="color:#333a40;letter-spacing:-0.05px">Aff2506-000024</span></div></div>
<div class="c" style="left:224px;width:60px;background:#dde5ef;"><div class="k" style="width:58px"><span class="t tb" style="color:#661024;letter-spacing:-0.45px">BLE TENDRE</span></div></div>
<div class="c" style="left:285px;width:42px;"><div class="k" style="width:40px"><span class="t tb" style="left:0;width:42px;text-align:center;color:#151590">30</span></div></div>
<div class="c" style="left:328px;width:113px;background:#dde5ef;"><div class="k" style="width:111px"><span class="t tb" style="color:#1616a4;letter-spacing:-0.42px">BAUER THOMAS</span></div></div>
<div class="c" style="left:442px;width:28px;"><svg style="left:2px;top:5px" width="13" height="12" viewBox="0 0 13 12"><path d="M2.3 1.9L10.7 10.1M10.7 1.9L2.3 10.1" stroke="#c41a1a" stroke-width="2.9" stroke-linecap="round" fill="none"/></svg></div>
<div class="c" style="left:471px;width:62px;"></div>
<div class="c" style="left:534px;width:46px;"><div class="k" style="width:44px"><span class="t tr" style="color:#3c3c3c;letter-spacing:-0.05px">28250</span></div></div>
<div class="c" style="left:581px;width:94px;"><div class="k" style="width:92px"><span class="t tr" style="color:#3c3c3c;letter-spacing:-0.30px">DIGNY</span></div></div>
<div class="c" style="left:676px;width:77px;background:#dde5ef;"><div class="k" style="width:75px"><span class="t tb" style="color:#1a7a2e;letter-spacing:-0.67px">TERRENA CEREALES</span></div></div>
<div class="c" style="left:754px;width:70px;"><div class="k" style="width:68px"><span class="t tb" style="color:#1a7a2e;letter-spacing:-0.35px">CTV0003</span></div></div>
<div class="c" style="left:825px;width:39px;"><div class="k" style="width:37px"><span class="t tr" style="color:#3c3c3c;letter-spacing:-0.05px">49002</span></div></div>
<div class="c" style="left:865px;width:74px;"><div class="k" style="width:72px"><span class="t tr" style="color:#3c3c3c;letter-spacing:-0.30px">ANGERS CEDEX</span></div></div>
<div class="c" style="left:940px;width:103px;background:#dde5ef;"><div class="k" style="width:101px"><span class="t tb" style="color:#1616a4;letter-spacing:-0.30px">Transports RIVET</span></div></div>
<div class="c" style="left:1044px;width:93px;"></div>
<div class="c" style="left:1138px;width:71px;"></div>
<div class="c" style="left:1210px;width:58px;"></div>
<div class="c" style="left:1269px;width:26px;"><div class="dot" style="left:1.8px;background:#d61d1d"></div></div>
<div class="c" style="left:1296px;width:28px;"><div class="dot" style="left:1.8px;background:#12952c"></div></div>
<div class="c" style="left:1325px;width:21px;"><div class="dot" style="left:1.8px;background:#d61d1d"></div></div>
<div class="c" style="left:1347px;width:83px;"><div class="k" style="width:81px"><span class="t tr" style="color:#3c3c3c;letter-spacing:0.24px">10/09/2025</span></div></div>
<div class="c" style="left:1431px;width:74px;"></div>
<div class="c" style="left:1506px;width:82px;"><div class="k" style="width:80px"><span class="t tr" style="color:#3c3c3c;letter-spacing:0.10px">LvcLd0044</span></div></div>
<div class="c" style="left:1589px;width:84px;"><div class="k" style="width:82px"><span class="t tr" style="color:#3c3c3c;letter-spacing:0.24px">30/06/2025</span></div></div>
<div class="c" style="left:1674px;width:78px;"><div class="k" style="width:76px"><span class="t tr" style="left:auto;right:0;color:#3c3c3c">30,000</span></div></div>
<div class="c" style="left:1753px;width:62px;"><div class="k" style="width:60px"><span class="t tr" style="color:#3c3c3c;letter-spacing:0.10px">LvcLd0044</span></div></div>
<div class="c" style="left:1816px;width:13px;"></div>
</div>
<div class="row" style="top:644px;background:#fafafa">
<div class="c" style="left:0px;width:120px;background:#e8eff8;"><div style="left:0;top:0;width:22px;height:21px;background:#f3f6fa"></div><div class="cb"></div><div class="k" style="width:118px"><span class="t tb" style="left:25px;color:#661428;letter-spacing:-0.14px">2506301644460</span></div></div>
<div class="c" style="left:121px;width:101px;background:#e8eff8;"><div class="k" style="width:99px"><span class="t tb" style="color:#333a40;letter-spacing:-0.05px">Aff2506-000025</span></div></div>
<div class="c" style="left:224px;width:60px;background:#e8eff8;"><div class="k" style="width:58px"><span class="t tb" style="color:#661024;letter-spacing:-0.45px">BLE TENDRE</span></div></div>
<div class="c" style="left:285px;width:42px;"><div class="k" style="width:40px"><span class="t tb" style="left:0;width:42px;text-align:center;color:#151590">30</span></div></div>
<div class="c" style="left:328px;width:113px;background:#e8eff8;"><div class="k" style="width:111px"><span class="t tb" style="color:#1616a4;letter-spacing:-0.42px">BAUER THOMAS</span></div></div>
<div class="c" style="left:442px;width:28px;"><svg style="left:2px;top:5px" width="13" height="12" viewBox="0 0 13 12"><path d="M2.3 1.9L10.7 10.1M10.7 1.9L2.3 10.1" stroke="#c41a1a" stroke-width="2.9" stroke-linecap="round" fill="none"/></svg></div>
<div class="c" style="left:471px;width:62px;"></div>
<div class="c" style="left:534px;width:46px;"><div class="k" style="width:44px"><span class="t tr" style="color:#3c3c3c;letter-spacing:-0.05px">28250</span></div></div>
<div class="c" style="left:581px;width:94px;"><div class="k" style="width:92px"><span class="t tr" style="color:#3c3c3c;letter-spacing:-0.30px">DIGNY</span></div></div>
<div class="c" style="left:676px;width:77px;background:#e8eff8;"><div class="k" style="width:75px"><span class="t tb" style="color:#1a7a2e;letter-spacing:-0.67px">TERRENA CEREALES</span></div></div>
<div class="c" style="left:754px;width:70px;"><div class="k" style="width:68px"><span class="t tb" style="color:#1a7a2e;letter-spacing:-0.35px">CTV0004</span></div></div>
<div class="c" style="left:825px;width:39px;"><div class="k" style="width:37px"><span class="t tr" style="color:#3c3c3c;letter-spacing:-0.05px">49002</span></div></div>
<div class="c" style="left:865px;width:74px;"><div class="k" style="width:72px"><span class="t tr" style="color:#3c3c3c;letter-spacing:-0.30px">ANGERS CEDEX</span></div></div>
<div class="c" style="left:940px;width:103px;background:#e8eff8;"><div class="k" style="width:101px"><span class="t tb" style="color:#1616a4;letter-spacing:-0.30px">Transports RIVET</span></div></div>
<div class="c" style="left:1044px;width:93px;"></div>
<div class="c" style="left:1138px;width:71px;"></div>
<div class="c" style="left:1210px;width:58px;"></div>
<div class="c" style="left:1269px;width:26px;"><div class="dot" style="left:1.8px;background:#d61d1d"></div></div>
<div class="c" style="left:1296px;width:28px;"><div class="dot" style="left:1.8px;background:#d61d1d"></div></div>
<div class="c" style="left:1325px;width:21px;"><div class="dot" style="left:1.8px;background:#d61d1d"></div></div>
<div class="c" style="left:1347px;width:83px;"><div class="k" style="width:81px"><span class="t tr" style="color:#3c3c3c;letter-spacing:0.24px">30/07/2025</span></div></div>
<div class="c" style="left:1431px;width:74px;"></div>
<div class="c" style="left:1506px;width:82px;"><div class="k" style="width:80px"><span class="t tr" style="color:#3c3c3c;letter-spacing:0.10px">LvcLd0045</span></div></div>
<div class="c" style="left:1589px;width:84px;"><div class="k" style="width:82px"><span class="t tr" style="color:#3c3c3c;letter-spacing:0.24px">15/08/2025</span></div></div>
<div class="c" style="left:1674px;width:78px;"><div class="k" style="width:76px"><span class="t tr" style="left:auto;right:0;color:#3c3c3c">30,000</span></div></div>
<div class="c" style="left:1753px;width:62px;"><div class="k" style="width:60px"><span class="t tr" style="color:#3c3c3c;letter-spacing:0.10px">LvcLd0045</span></div></div>
<div class="c" style="left:1816px;width:13px;"></div>
</div>
<div class="row" style="top:665px;background:#efefef">
<div class="c" style="left:0px;width:120px;background:#dde5ef;"><div style="left:0;top:0;width:22px;height:21px;background:#f3f6fa"></div><div class="cb"></div><div class="k" style="width:118px"><span class="t tb" style="left:25px;color:#661428;letter-spacing:-0.14px">2506301733130</span></div></div>
<div class="c" style="left:121px;width:101px;background:#dde5ef;"><div class="k" style="width:99px"><span class="t tb" style="color:#333a40;letter-spacing:-0.05px">Aff2506-000094</span></div></div>
<div class="c" style="left:224px;width:60px;background:#dde5ef;"><div class="k" style="width:58px"><span class="t tb" style="color:#661024;letter-spacing:-0.45px">BLE TENDRE</span></div></div>
<div class="c" style="left:285px;width:42px;"><div class="k" style="width:40px"><span class="t tb" style="left:0;width:42px;text-align:center;color:#151590">30</span></div></div>
<div class="c" style="left:328px;width:113px;background:#dde5ef;"><div class="k" style="width:111px"><span class="t tb" style="color:#1616a4;letter-spacing:-0.42px">28 BOUGLAINVAL</span></div></div>
<div class="c" style="left:442px;width:28px;"><svg style="left:2px;top:5px" width="13" height="12" viewBox="0 0 13 12"><path d="M2.3 1.9L10.7 10.1M10.7 1.9L2.3 10.1" stroke="#c41a1a" stroke-width="2.9" stroke-linecap="round" fill="none"/></svg></div>
<div class="c" style="left:471px;width:62px;"></div>
<div class="c" style="left:534px;width:46px;"><div class="k" style="width:44px"><span class="t tr" style="color:#3c3c3c;letter-spacing:-0.05px">28130</span></div></div>
<div class="c" style="left:581px;width:94px;"><div class="k" style="width:92px"><span class="t tr" style="color:#3c3c3c;letter-spacing:-0.30px">BOUGLAINVAL</span></div></div>
<div class="c" style="left:676px;width:77px;background:#dde5ef;"><div class="k" style="width:75px"><span class="t tb" style="color:#1616a4;letter-spacing:-0.42px">18 VASSELAY</span></div></div>
<div class="c" style="left:754px;width:70px;"></div>
<div class="c" style="left:825px;width:39px;"><div class="k" style="width:37px"><span class="t tr" style="color:#3c3c3c;letter-spacing:-0.05px">18110</span></div></div>
<div class="c" style="left:865px;width:74px;"><div class="k" style="width:72px"><span class="t tr" style="color:#3c3c3c;letter-spacing:-0.30px">VASSELAY</span></div></div>
<div class="c" style="left:940px;width:103px;background:#dde5ef;"><div class="k" style="width:101px"><span class="t tb" style="color:#1616a4;letter-spacing:-0.30px">Transports MERIENNE</span></div></div>
<div class="c" style="left:1044px;width:93px;"></div>
<div class="c" style="left:1138px;width:71px;"></div>
<div class="c" style="left:1210px;width:58px;"></div>
<div class="c" style="left:1269px;width:26px;"><div class="dot" style="left:1.8px;background:#d61d1d"></div></div>
<div class="c" style="left:1296px;width:28px;"><div class="dot" style="left:1.8px;background:#d61d1d"></div></div>
<div class="c" style="left:1325px;width:21px;"><div class="dot" style="left:1.8px;background:#d61d1d"></div></div>
<div class="c" style="left:1347px;width:83px;"><div class="k" style="width:81px"><span class="t tr" style="color:#3c3c3c;letter-spacing:0.24px">30/06/2025</span></div></div>
<div class="c" style="left:1431px;width:74px;"><div class="k" style="width:72px"><span class="t tr" style="left:auto;right:0;color:#3c3c3c">30,000</span></div></div>
<div class="c" style="left:1506px;width:82px;"><div class="k" style="width:80px"><span class="t tr" style="color:#3c3c3c;letter-spacing:0.10px">Ts0014</span></div></div>
<div class="c" style="left:1589px;width:84px;"><div class="k" style="width:82px"><span class="t tr" style="color:#3c3c3c;letter-spacing:0.24px">25/07/2025</span></div></div>
<div class="c" style="left:1674px;width:78px;"><div class="k" style="width:76px"><span class="t tr" style="left:auto;right:0;color:#3c3c3c">29,200</span></div></div>
<div class="c" style="left:1753px;width:62px;"><div class="k" style="width:60px"><span class="t tr" style="color:#3c3c3c;letter-spacing:0.10px">Te0006</span></div></div>
<div class="c" style="left:1816px;width:13px;"></div>
</div>
<div class="row" style="top:686px;background:#fafafa">
<div class="c" style="left:0px;width:120px;background:#e8eff8;"><div style="left:0;top:0;width:22px;height:21px;background:#f3f6fa"></div><div class="cb"></div><div class="k" style="width:118px"><span class="t tb" style="left:25px;color:#661428;letter-spacing:-0.14px">2506301733130</span></div></div>
<div class="c" style="left:121px;width:101px;background:#e8eff8;"><div class="k" style="width:99px"><span class="t tb" style="color:#333a40;letter-spacing:-0.05px">Aff2507-000076</span></div></div>
<div class="c" style="left:224px;width:60px;background:#e8eff8;"><div class="k" style="width:58px"><span class="t tb" style="color:#661024;letter-spacing:-0.45px">BLE TENDRE</span></div></div>
<div class="c" style="left:285px;width:42px;"><div class="k" style="width:40px"><span class="t tb" style="left:0;width:42px;text-align:center;color:#151590">30</span></div></div>
<div class="c" style="left:328px;width:113px;background:#e8eff8;"><div class="k" style="width:111px"><span class="t tb" style="color:#1616a4;letter-spacing:-0.42px">28 BOUGLAINVAL</span></div></div>
<div class="c" style="left:442px;width:28px;"><svg style="left:2px;top:5px" width="13" height="12" viewBox="0 0 13 12"><path d="M2.3 1.9L10.7 10.1M10.7 1.9L2.3 10.1" stroke="#c41a1a" stroke-width="2.9" stroke-linecap="round" fill="none"/></svg></div>
<div class="c" style="left:471px;width:62px;"></div>
<div class="c" style="left:534px;width:46px;"><div class="k" style="width:44px"><span class="t tr" style="color:#3c3c3c;letter-spacing:-0.05px">28130</span></div></div>
<div class="c" style="left:581px;width:94px;"><div class="k" style="width:92px"><span class="t tr" style="color:#3c3c3c;letter-spacing:-0.30px">BOUGLAINVAL</span></div></div>
<div class="c" style="left:676px;width:77px;background:#e8eff8;"><div class="k" style="width:75px"><span class="t tb" style="color:#1616a4;letter-spacing:-0.42px">18 VASSELAY</span></div></div>
<div class="c" style="left:754px;width:70px;"></div>
<div class="c" style="left:825px;width:39px;"><div class="k" style="width:37px"><span class="t tr" style="color:#3c3c3c;letter-spacing:-0.05px">18110</span></div></div>
<div class="c" style="left:865px;width:74px;"><div class="k" style="width:72px"><span class="t tr" style="color:#3c3c3c;letter-spacing:-0.30px">VASSELAY</span></div></div>
<div class="c" style="left:940px;width:103px;background:#e8eff8;"><div class="k" style="width:101px"><span class="t tb" style="color:#1616a4;letter-spacing:-0.30px">Transports MERIENNE</span></div></div>
<div class="c" style="left:1044px;width:93px;"></div>
<div class="c" style="left:1138px;width:71px;"></div>
<div class="c" style="left:1210px;width:58px;"></div>
<div class="c" style="left:1269px;width:26px;"><div class="dot" style="left:1.8px;background:#d61d1d"></div></div>
<div class="c" style="left:1296px;width:28px;"><div class="dot" style="left:1.8px;background:#d61d1d"></div></div>
<div class="c" style="left:1325px;width:21px;"><div class="dot" style="left:1.8px;background:#d61d1d"></div></div>
<div class="c" style="left:1347px;width:83px;"><div class="k" style="width:81px"><span class="t tr" style="color:#3c3c3c;letter-spacing:0.24px">30/06/2025</span></div></div>
<div class="c" style="left:1431px;width:74px;"></div>
<div class="c" style="left:1506px;width:82px;"></div>
<div class="c" style="left:1589px;width:84px;"></div>
<div class="c" style="left:1674px;width:78px;"></div>
<div class="c" style="left:1753px;width:62px;"></div>
<div class="c" style="left:1816px;width:13px;"></div>
</div>
<div class="row" style="top:707px;background:#efefef">
<div class="c" style="left:0px;width:120px;background:#dde5ef;"><div style="left:0;top:0;width:22px;height:21px;background:#f3f6fa"></div><div class="cb"></div><div class="k" style="width:118px"><span class="t tb" style="left:25px;color:#661428;letter-spacing:-0.14px">2507011433440</span></div></div>
<div class="c" style="left:121px;width:101px;background:#dde5ef;"><div class="k" style="width:99px"><span class="t tb" style="color:#333a40;letter-spacing:-0.05px">Aff2507-000094</span></div></div>
<div class="c" style="left:224px;width:60px;background:#dde5ef;"><div class="k" style="width:58px"><span class="t tb" style="color:#661024;letter-spacing:-0.45px">BLE DE FOURRAGE</span></div></div>
<div class="c" style="left:285px;width:42px;"><div class="k" style="width:40px"><span class="t tb" style="left:0;width:42px;text-align:center;color:#151590">25</span></div></div>
<div class="c" style="left:328px;width:113px;background:#dde5ef;"><div class="k" style="width:111px"><span class="t tb" style="color:#70127c;letter-spacing:-0.42px">EARL BILLOT</span></div></div>
<div class="c" style="left:442px;width:28px;"><svg style="left:2px;top:5px" width="13" height="12" viewBox="0 0 13 12"><path d="M2.3 1.9L10.7 10.1M10.7 1.9L2.3 10.1" stroke="#c41a1a" stroke-width="2.9" stroke-linecap="round" fill="none"/></svg></div>
<div class="c" style="left:471px;width:62px;"><div class="k" style="width:60px"><span class="t tb" style="color:#70127c;letter-spacing:-0.35px">CTA0012</span></div></div>
<div class="c" style="left:534px;width:46px;"><div class="k" style="width:44px"><span class="t tr" style="color:#3c3c3c;letter-spacing:-0.05px">10130</span></div></div>
<div class="c" style="left:581px;width:94px;"><div class="k" style="width:92px"><span class="t tr" style="color:#3c3c3c;letter-spacing:-0.30px">SERBOIS</span></div></div>
<div class="c" style="left:676px;width:77px;background:#dde5ef;"><div class="k" style="width:75px"><span class="t tb" style="color:#1616a4;letter-spacing:-0.42px">SENALIA VUD</span></div></div>
<div class="c" style="left:754px;width:70px;"></div>
<div class="c" style="left:825px;width:39px;"><div class="k" style="width:37px"><span class="t tr" style="color:#3c3c3c;letter-spacing:-0.05px">76300</span></div></div>
<div class="c" style="left:865px;width:74px;"><div class="k" style="width:72px"><span class="t tr" style="color:#3c3c3c;letter-spacing:-0.30px">VAL DE LA HAYE</span></div></div>
<div class="c" style="left:940px;width:103px;background:#dde5ef;"><div class="k" style="width:101px"><span class="t tb" style="color:#1616a4;letter-spacing:-0.30px">Transports HENRY</span></div></div>
<div class="c" style="left:1044px;width:93px;"></div>
<div class="c" style="left:1138px;width:71px;"></div>
<div class="c" style="left:1210px;width:58px;"></div>
<div class="c" style="left:1269px;width:26px;"><div class="dot" style="left:1.8px;background:#d61d1d"></div></div>
<div class="c" style="left:1296px;width:28px;"><div class="dot" style="left:1.8px;background:#d61d1d"></div></div>
<div class="c" style="left:1325px;width:21px;"><div class="dot" style="left:1.8px;background:#d61d1d"></div></div>
<div class="c" style="left:1347px;width:83px;"><div class="k" style="width:81px"><span class="t tr" style="color:#3c3c3c;letter-spacing:0.24px">22/07/2025</span></div></div>
<div class="c" style="left:1431px;width:74px;"><div class="k" style="width:72px"><span class="t tr" style="left:auto;right:0;color:#3c3c3c">27,000</span></div></div>
<div class="c" style="left:1506px;width:82px;"><div class="k" style="width:80px"><span class="t tr" style="color:#3c3c3c;letter-spacing:0.10px">Ts000008</span></div></div>
<div class="c" style="left:1589px;width:84px;"><div class="k" style="width:82px"><span class="t tr" style="color:#3c3c3c;letter-spacing:0.24px">23/07/2025</span></div></div>
<div class="c" style="left:1674px;width:78px;"><div class="k" style="width:76px"><span class="t tr" style="left:auto;right:0;color:#3c3c3c">26,950</span></div></div>
<div class="c" style="left:1753px;width:62px;"><div class="k" style="width:60px"><span class="t tr" style="color:#3c3c3c;letter-spacing:0.10px">Te000008</span></div></div>
<div class="c" style="left:1816px;width:13px;"></div>
</div>
<div class="rl" style="top:140px"></div>
<div class="rl" style="top:161px"></div>
<div class="rl" style="top:182px"></div>
<div class="rl" style="top:203px"></div>
<div class="rl" style="top:224px"></div>
<div class="rl" style="top:245px"></div>
<div class="rl" style="top:266px"></div>
<div class="rl" style="top:287px"></div>
<div class="rl" style="top:308px"></div>
<div class="rl" style="top:329px"></div>
<div class="rl" style="top:350px"></div>
<div class="rl" style="top:371px"></div>
<div class="rl" style="top:392px"></div>
<div class="rl" style="top:413px"></div>
<div class="rl" style="top:434px"></div>
<div class="rl" style="top:455px"></div>
<div class="rl" style="top:476px"></div>
<div class="rl" style="top:497px"></div>
<div class="rl" style="top:518px"></div>
<div class="rl" style="top:539px"></div>
<div class="rl" style="top:560px"></div>
<div class="rl" style="top:581px"></div>
<div class="rl" style="top:602px"></div>
<div class="rl" style="top:623px"></div>
<div class="rl" style="top:644px"></div>
<div class="rl" style="top:665px"></div>
<div class="rl" style="top:686px"></div>
<div class="rl" style="top:707px"></div>
<div class="rl" style="top:728px"></div>
<div class="vs" style="left:132px"></div>
<div class="vs" style="left:234px"></div>
<div class="vs" style="left:296px"></div>
<div class="vs" style="left:339px"></div>
<div class="vs" style="left:453px"></div>
<div class="vs" style="left:482px"></div>
<div class="vs" style="left:545px"></div>
<div class="vs" style="left:592px"></div>
<div class="vs" style="left:687px"></div>
<div class="vs" style="left:765px"></div>
<div class="vs" style="left:836px"></div>
<div class="vs" style="left:876px"></div>
<div class="vs" style="left:951px"></div>
<div class="vs" style="left:1055px"></div>
<div class="vs" style="left:1149px"></div>
<div class="vs" style="left:1221px"></div>
<div class="vs" style="left:1280px"></div>
<div class="vs" style="left:1307px"></div>
<div class="vs" style="left:1336px"></div>
<div class="vs" style="left:1358px"></div>
<div class="vs" style="left:1442px"></div>
<div class="vs" style="left:1517px"></div>
<div class="vs" style="left:1600px"></div>
<div class="vs" style="left:1685px"></div>
<div class="vs" style="left:1764px"></div>
<div class="vs" style="left:1827px"></div>
<div class="ind"></div>
<div style="left:11px;top:0;width:1px;height:717px;background:#cfe6f2"></div>
<div class="indl" style="top:92px"></div>
<div class="indl" style="top:119px"></div>
<div class="indl" style="top:140px"></div>
<div class="indl" style="top:161px"></div>
<div class="indl" style="top:182px"></div>
<div class="indl" style="top:203px"></div>
<div class="indl" style="top:224px"></div>
<div class="indl" style="top:245px"></div>
<div class="indl" style="top:266px"></div>
<div class="indl" style="top:287px"></div>
<div class="indl" style="top:308px"></div>
<div class="indl" style="top:329px"></div>
<div class="indl" style="top:350px"></div>
<div class="indl" style="top:371px"></div>
<div class="indl" style="top:392px"></div>
<div class="indl" style="top:413px"></div>
<div class="indl" style="top:434px"></div>
<div class="indl" style="top:455px"></div>
<div class="indl" style="top:476px"></div>
<div class="indl" style="top:497px"></div>
<div class="indl" style="top:518px"></div>
<div class="indl" style="top:539px"></div>
<div class="indl" style="top:560px"></div>
<div class="indl" style="top:581px"></div>
<div class="indl" style="top:602px"></div>
<div class="indl" style="top:623px"></div>
<div class="indl" style="top:644px"></div>
<div class="indl" style="top:665px"></div>
<div class="indl" style="top:686px"></div>
<div class="indl" style="top:707px"></div>
<div class="indl" style="top:728px"></div>
<div style="left:3px;top:43px;width:5.4px;height:5.4px;border-radius:50%;background:#1f63d6"></div>
<svg style="left:1px;top:101px" width="10" height="10" viewBox="0 0 10 10"><path d="M0.3 0.8h9.2L6 4.6V8.6L3.9 7.4V4.6z" fill="#1d67d8"/></svg>
<svg style="left:0.5px;top:419px" width="10" height="9" viewBox="0 0 10 9"><path d="M0 4.5h8.5M5.5 1.5L8.8 4.5L5.5 7.5" stroke="#2568c8" stroke-opacity="0.8" stroke-width="1" fill="none"/></svg>
<svg style="left:113px;top:41px" width="10" height="9" viewBox="0 0 10 9"><path d="M1 1.5h2M1 3.5h4M1 5.5h6M1 7.5h8" stroke="#6fa3bb" stroke-width="1"/></svg>
<div style="right:848.5px;top:92px;height:24px;line-height:24px;font-size:10px;letter-spacing:0.06px;color:#707070;white-space:nowrap">Cliquer ici pour définir un filtre</div>
</div>
<div class="lab" style="left:495.0px;color:#e30a0a;font-weight:bold;">Origine</div>
<div class="lab" style="left:801.5px;color:#22a548;font-weight:bold;background:#f0f0f0;top:148px;height:23px;line-height:22px;padding-right:0.5px;">Destination</div>
<div class="lab" style="left:1117.0px;color:#f09c58;font-weight:bold;">Transport</div>
<div class="lab" style="left:1324.7px;color:#da1c1c;">Doc</div>
<div class="lab" style="left:1453.3px;color:#e72f6d;">Chargement</div>
<div class="lab" style="left:1702.3px;color:#e72f6d;">Réception</div>
<div class="box" style="left:364.0px;top:54px;width:344.0px;height:723.0px;border-color:#e11c1c"></div>
<div class="box" style="left:711.0px;top:54px;width:267.0px;height:723.0px;border-color:#22a74c"></div>
<div class="box" style="left:980.0px;top:54px;width:323.5px;height:723.0px;border-color:#f0a86a"></div>
<div class="box" style="left:1382.0px;top:54px;width:244.0px;height:719.5px;border-color:#e83a76"></div>
<div style="left:1628px;top:54px;width:225.6px;height:2px;background:repeating-linear-gradient(90deg,#e83a76 0 6px,transparent 6px 8.13px)"></div>
<div style="left:1628px;top:771.5px;width:225.6px;height:2px;background:repeating-linear-gradient(90deg,#e83a76 0 6px,transparent 6px 8.13px)"></div>
<div style="left:1628px;top:54px;width:2px;height:719.5px;background:repeating-linear-gradient(180deg,#e83a76 0 6px,transparent 6px 8.13px)"></div>
<div style="left:1851.6px;top:54px;width:2px;height:719.5px;background:repeating-linear-gradient(180deg,#e83a76 0 6px,transparent 6px 8.13px)"></div>

<div class="btn" style="left:20px;width:175px"><svg style="left:8px;top:5px" width="29" height="29" viewBox="0 0 29 29"><circle cx="14.5" cy="14.5" r="14.2" fill="#2f9159"/><path d="M14.5 6.2v16.6M6.2 14.5h16.6" stroke="#e2f3e8" stroke-width="4.6"/></svg><span style="left:43px;letter-spacing:-0.17px">Créer affrètement(s)</span><svg style="left:160px;top:18px" width="8" height="5" viewBox="0 0 8 5"><path d="M0 0h8L4 4.4z" fill="#444"/></svg></div>
<div class="btn" style="left:208px;width:130px"><svg style="left:8px;top:5px" width="29" height="29" viewBox="0 0 29 29"><path fill-rule="evenodd" fill="#3b74cb" d="M11.51 0.62L17.49 0.62L17.22 4.57L19.60 5.55L22.20 2.57L26.43 6.80L23.45 9.40L24.43 11.78L28.38 11.51L28.38 17.49L24.43 17.22L23.45 19.60L26.43 22.20L22.20 26.43L19.60 23.45L17.22 24.43L17.49 28.38L11.51 28.38L11.78 24.43L9.40 23.45L6.80 26.43L2.57 22.20L5.55 19.60L4.57 17.22L0.62 17.49L0.62 11.51L4.57 11.78L5.55 9.40L2.57 6.80L6.80 2.57L9.40 5.55L11.78 4.57ZM9.90 14.50a4.60 4.60 0 1 0 9.20 0a4.60 4.60 0 1 0 -9.20 0Z"/></svg><span style="left:44px">Actions</span><svg style="left:115px;top:18px" width="8" height="5" viewBox="0 0 8 5"><path d="M0 0h8L4 4.4z" fill="#444"/></svg></div>
<div class="btn" style="left:351px;width:130px"><svg style="left:8px;top:5px" width="29" height="29" viewBox="0 0 29 29"><g fill="#707070"><path d="M6.5 0.8h16v8h-3v-5h-10v5h-3z"/><path d="M2.5 7.8h24a2 2 0 0 1 2 2v11.5h-6v-6.5h-16v6.5h-6V9.8a2 2 0 0 1 2-2z"/><path d="M6.5 14.8h16v13.5h-16zM9.5 17.5v8h10v-8z" fill-rule="evenodd"/><rect x="11" y="19" width="7" height="1.8"/><rect x="11" y="22.2" width="7" height="1.8"/></g></svg><span style="left:43px">Documents</span><svg style="left:115px;top:18px" width="8" height="5" viewBox="0 0 8 5"><path d="M0 0h8L4 4.4z" fill="#444"/></svg></div>
<div class="btn btn2" style="left:1545px;width:100px;top:792px;height:40px"><svg style="left:8px;top:8px" width="24" height="24" viewBox="0 0 24 24"><path d="M2.8 2.6L20.2 20.4M20.2 2.6L2.8 20.4" stroke="#bababa" stroke-width="4.2" stroke-linecap="round"/></svg><span style="left:39px">Supprimer</span></div>
<div class="btn btn2" style="left:1658px;width:100px;top:792px;height:40px"><svg style="left:14px;top:6px" width="26" height="26" viewBox="0 0 26 26"><path d="M4.8 8.6A9.6 9.6 0 1 1 3.2 14.6" stroke="#bababa" stroke-width="4" fill="none"/><path d="M0.8 2V11.2H10z" fill="#bababa"/></svg><span style="left:46px">Annuler</span></div>
<div class="btn btn2" style="left:1771px;width:100px;top:792px;height:40px"><svg style="left:15px;top:6.5px" width="29" height="23" viewBox="0 0 29 23"><path d="M2.2 12.8L10 20.2L26.8 2.8" stroke="#bababa" stroke-width="4.4" fill="none" stroke-linejoin="miter"/></svg><span style="left:49.5px;letter-spacing:-0.4px">Valider</span></div>

<div style="left:0;top:851px;width:1890px;height:2px;background:#232323"></div>
<div style="left:0;top:851px;width:186px;height:2px;background:#2a2540"></div>
<div style="left:186px;top:851px;width:205px;height:2px;background:#2e7d5c"></div>
<div style="left:183px;top:851px;width:3px;height:2px;background:#fff"></div>
<div style="left:391px;top:851px;width:3px;height:2px;background:#fff"></div>
</body></html>
